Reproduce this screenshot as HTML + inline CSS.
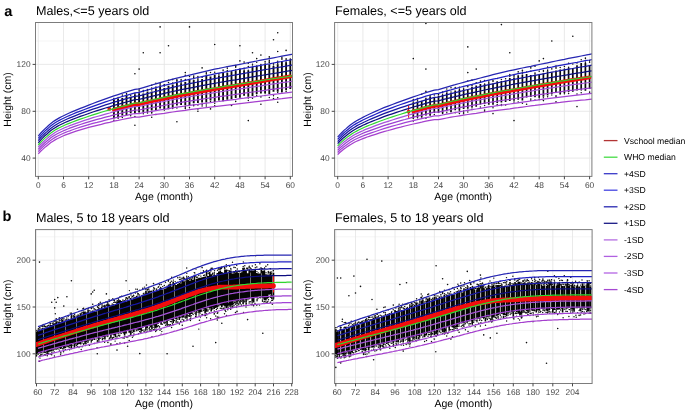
<!DOCTYPE html>
<html lang="en"><head><meta charset="utf-8"><title>Height-for-age growth charts</title>
<style>html,body{margin:0;padding:0;background:#fff}svg{display:block;will-change:transform}</style></head>
<body>
<svg width="685" height="413" viewBox="0 0 685 413" font-family='"Liberation Sans", Arial, Helvetica, sans-serif' text-rendering="geometricPrecision">
<rect width="685" height="413" fill="#fff"/>
<text x="4.2" y="15.9" font-size="14.6" font-weight="700" fill="#000">a</text>
<text x="35.9" y="14.5" font-size="12.6" fill="#000">Males,&lt;=5 years old</text>
<rect x="35.5" y="22.5" width="257" height="153.9" fill="#fff"/>
<path d="M35.5 134.7H292.5M35.5 87.8H292.5M35.5 41H292.5" stroke="#ececec" stroke-width=".55" fill="none"/>
<path d="M35.5 158.1H292.5M35.5 111.3H292.5M35.5 64.4H292.5M38.3 22.5V176.4M63.5 22.5V176.4M88.7 22.5V176.4M113.9 22.5V176.4M139.1 22.5V176.4M164.3 22.5V176.4M189.5 22.5V176.4M214.7 22.5V176.4M239.9 22.5V176.4M265.1 22.5V176.4M290.3 22.5V176.4" stroke="#e4e4e4" stroke-width=".8" fill="none"/>
<clipPath id="ca"><rect x="35.5" y="22.5" width="257" height="153.9"/></clipPath>
<g clip-path="url(#ca)">
<path d="M113.9 118.1V99.5M118.1 117.6V98.5M122.3 115.5V98.1M126.5 115.3V95.4M130.7 113.3V96.8M134.9 113.5V94.3M139.1 112.6V93.4M143.3 111.7V93.4M147.5 111.7V91.5M151.7 110.5V91.4M155.9 110.6V88.6M160.1 108.6V86.6M164.3 109.3V88.1M168.5 109.2V85.7M172.7 107.8V84.6M176.9 105.6V82.6M181.1 104.9V83.3M185.3 105.3V81.9M189.5 104.9V80.1M193.7 103.3V80.3M197.9 102.9V80.2M202.1 102.6V79M206.3 102.5V75.8M210.5 100.6V76.6M214.7 102.1V74.8M218.9 100.4V75.8M223.1 101.2V72.5M227.3 99.8V72.4M231.5 99.3V71.7M235.7 98.1V70.5M239.9 97.8V69.1M244.1 95.7V70.8M248.3 96.8V70.4M252.5 96V66.9M256.7 93.9V66.1M260.9 93.5V66M265.1 92.9V64.6M269.3 93.9V64.3M273.5 91.8V66M277.7 91.8V64.3M281.9 92.1V61M286.1 90.2V62.3M290.3 89V59.6" stroke="#0a0a0a" stroke-width="1.85" fill="none"/>
<path d="M113.9 98.8h.01M113.9 98.6h.01M113.9 120.3h.01M113.9 118.1h.01M118.1 97.6h.01M118.1 118.3h.01M122.3 96.5h.01M122.3 95.1h.01M122.3 117.6h.01M126.5 94.9h.01M126.5 93.6h.01M130.7 95.3h.01M130.7 115.7h.01M134.9 93.5h.01M134.9 113.6h.01M139.1 92.2h.01M139.1 93.3h.01M139.1 90.7h.01M143.3 91.7h.01M143.3 90.6h.01M143.3 91.3h.01M143.3 113.8h.01M143.3 111.9h.01M147.5 90.3h.01M147.5 89.5h.01M147.5 111.9h.01M147.5 112.9h.01M151.7 90.1h.01M151.7 88.1h.01M151.7 112.3h.01M151.7 112.3h.01M155.9 87.1h.01M155.9 87.8h.01M155.9 87.2h.01M160.1 84.2h.01M160.1 85.5h.01M160.1 83.5h.01M164.3 84.8h.01M164.3 84.9h.01M164.3 86.1h.01M164.3 109.7h.01M164.3 109.9h.01M168.5 82.5h.01M172.7 83.1h.01M172.7 108.6h.01M176.9 80.5h.01M176.9 81.4h.01M176.9 108.1h.01M181.1 82.8h.01M181.1 79.6h.01M181.1 80.8h.01M185.3 80.5h.01M185.3 79.6h.01M185.3 107.6h.01M185.3 106.5h.01M189.5 79.5h.01M189.5 76.4h.01M189.5 80.1h.01M189.5 107.5h.01M189.5 107.7h.01M193.7 80.3h.01M193.7 77.9h.01M193.7 77.2h.01M193.7 105.1h.01M193.7 105.8h.01M197.9 79.5h.01M197.9 78.8h.01M197.9 76.4h.01M197.9 104.9h.01M202.1 77.2h.01M202.1 106.1h.01M202.1 104.4h.01M206.3 73.4h.01M206.3 74h.01M206.3 72.2h.01M206.3 104h.01M206.3 105.9h.01M210.5 72.6h.01M210.5 101.6h.01M214.7 72.2h.01M214.7 105.7h.01M214.7 103.3h.01M218.9 74.9h.01M223.1 69.9h.01M223.1 70.5h.01M227.3 68.3h.01M227.3 70.4h.01M231.5 71.5h.01M235.7 67.2h.01M235.7 70h.01M235.7 66.4h.01M235.7 101.2h.01M235.7 101.5h.01M239.9 68.9h.01M244.1 70h.01M244.1 68.3h.01M244.1 70.7h.01M248.3 70.3h.01M248.3 98h.01M248.3 100.5h.01M252.5 64.2h.01M252.5 66.1h.01M252.5 98.3h.01M256.7 62.2h.01M256.7 65.9h.01M256.7 95.2h.01M256.7 95.2h.01M260.9 64.6h.01M260.9 97h.01M260.9 96.7h.01M265.1 63.7h.01M265.1 61.9h.01M265.1 61.6h.01M265.1 95.4h.01M265.1 93.3h.01M269.3 60.6h.01M269.3 62.8h.01M269.3 60.9h.01M269.3 97.5h.01M269.3 97.6h.01M273.5 65h.01M273.5 63.4h.01M273.5 95.7h.01M277.7 61.2h.01M277.7 63.8h.01M277.7 62.5h.01M277.7 92.4h.01M281.9 59.2h.01M281.9 58.4h.01M281.9 93.1h.01M286.1 61.9h.01M286.1 58.7h.01M286.1 59.5h.01M286.1 91.5h.01M290.3 59h.01M290.3 59h.01M290.3 59.3h.01" stroke="#111" stroke-width="1.5" stroke-linecap="round" fill="none"/>
<path d="M134.9 73.8h.01M139.1 69.1h.01M143.3 52.7h.01M160.1 26.9h.01M160.1 52.7h.01M168.5 45.7h.01M189.5 26.9h.01M185.3 72.6h.01M214.7 44.5h.01M239.9 45.7h.01M239.9 60.9h.01M248.3 63.2h.01M252.5 52.7h.01M256.7 58.6h.01M260.9 55.1h.01M273.5 39.8h.01M277.7 32.8h.01M277.7 51.5h.01M286.1 50.4h.01M202.1 67.9h.01M227.3 66.8h.01M235.7 65.6h.01M176.9 121.8h.01M248.3 120.6h.01M134.9 125.3h.01M197.9 111.3h.01M210.5 108.9h.01M231.5 105.4h.01M260.9 104.2h.01M155.9 83.2h.01M172.7 79.6h.01M193.7 76.1h.01M218.9 73.8h.01M244.1 62.1h.01M269.3 58.6h.01M269.3 62.1h.01M248.3 66.5h.01M277.7 97.8h.01M269.3 56.9h.01M151.7 85.3h.01M197.9 109h.01M134.9 116.5h.01M176.9 79.9h.01M185.3 106.5h.01M168.5 80.2h.01M164.3 109.5h.01M273.5 98.5h.01M151.7 117.2h.01M231.5 105h.01M281.9 57.3h.01M155.9 114.5h.01M151.7 112.9h.01M147.5 90h.01M185.3 108.6h.01M139.1 89.1h.01M185.3 75.3h.01M164.3 85.1h.01M277.7 102.2h.01" stroke="#111" stroke-width="1.6" stroke-linecap="round" fill="none"/>
<path d="M113.9 109.7L118.1 108.6L122.3 107.5L126.5 106.4L130.7 105.4L134.9 104.3L139.1 104.1L143.3 103.1L147.5 102.1L151.7 101.2L155.9 100.3L160.1 99.4L164.3 98.5L168.5 97.6L172.7 96.8L176.9 95.9L181.1 95.1L185.3 94.3L189.5 93.6L193.7 92.8L197.9 92L202.1 91.3L206.3 90.5L210.5 89.8L214.7 89.1L218.9 88.3L223.1 87.7L227.3 87L231.5 86.3L235.7 85.6L239.9 85L244.1 84.2L248.3 83.5L252.5 82.8L256.7 82.1L260.9 81.4L265.1 80.6L269.3 79.9L273.5 79.2L277.7 78.5L281.9 77.8L286.1 77.1L290.3 76.4" stroke="#f20d0d" stroke-width="3.9" stroke-linecap="round" stroke-linejoin="round" fill="none"/>
<circle cx="109.3" cy="108.9" r="1.9" fill="#f20d0d"/>
<path d="M38.3 153.8L40.4 151.5L42.5 149.6L44.6 147.6L46.7 145.9L48.8 144.2L50.9 142.6L53 141.2L55.1 139.9L57.2 138.7L59.3 137.7L61.4 136.7L63.5 135.8L65.6 134.9L67.7 134.1L69.8 133.3L71.9 132.6L76.1 131.2L80.3 129.8L84.5 128.6L88.7 127.4L92.9 126.3L97.1 125.3L101.3 124.3L105.5 123.2L109.7 122.3L113.9 121.2L118.1 120.4L122.3 119.5L126.5 118.6L130.7 117.8L134.9 117L139.1 117L143.3 116.3L147.5 115.6L151.7 115L155.9 114.4L160.1 113.8L164.3 113.3L168.5 112.6L172.7 112L176.9 111.4L181.1 110.8L185.3 110.3L189.5 109.7L193.7 109.2L197.9 108.7L202.1 108.2L206.3 107.7L210.5 107.2L214.7 106.7L218.9 106.2L223.1 105.7L227.3 105.2L231.5 104.7L235.7 104.2L239.9 103.6L244.1 103.1L248.3 102.6L252.5 102.1L256.7 101.6L260.9 101.1L265.1 100.6L269.3 100.1L273.5 99.6L277.7 99.1L281.9 98.7L286.1 98.2L290.3 97.7L294.5 97.2" stroke="#a540ce" stroke-width="1.25" fill="none"/>
<path d="M38.3 151.6L40.4 149.3L42.5 147.3L44.6 145.3L46.7 143.6L48.8 141.8L50.9 140.2L53 138.8L55.1 137.4L57.2 136.2L59.3 135.2L61.4 134.2L63.5 133.3L65.6 132.4L67.7 131.5L69.8 130.8L71.9 130L76.1 128.5L80.3 127.2L84.5 125.9L88.7 124.7L92.9 123.4L97.1 122.4L101.3 121.3L105.5 120.2L109.7 119.2L113.9 118.1L118.1 117.2L122.3 116.2L126.5 115.3L130.7 114.4L134.9 113.5L139.1 113.5L143.3 112.7L147.5 112L151.7 111.3L155.9 110.6L160.1 109.9L164.3 109.3L168.5 108.6L172.7 107.9L176.9 107.2L181.1 106.6L185.3 106L189.5 105.4L193.7 104.8L197.9 104.3L202.1 103.7L206.3 103.1L210.5 102.6L214.7 102L218.9 101.5L223.1 100.9L227.3 100.4L231.5 99.8L235.7 99.3L239.9 98.7L244.1 98.2L248.3 97.6L252.5 97.1L256.7 96.5L260.9 96L265.1 95.5L269.3 94.9L273.5 94.4L277.7 93.9L281.9 93.3L286.1 92.8L290.3 92.3L294.5 91.8" stroke="#a244d6" stroke-width="1.25" fill="none"/>
<path d="M38.3 149.4L40.4 147L42.5 145L44.6 143L46.7 141.2L48.8 139.5L50.9 137.8L53 136.3L55.1 135L57.2 133.8L59.3 132.7L61.4 131.7L63.5 130.8L65.6 129.9L67.7 129L69.8 128.2L71.9 127.4L76.1 125.9L80.3 124.5L84.5 123.2L88.7 121.9L92.9 120.6L97.1 119.4L101.3 118.3L105.5 117.1L109.7 116.1L113.9 114.9L118.1 114L122.3 112.9L126.5 112L130.7 111L134.9 110.1L139.1 110L143.3 109.1L147.5 108.3L151.7 107.5L155.9 106.8L160.1 106L164.3 105.3L168.5 104.5L172.7 103.8L176.9 103.1L181.1 102.4L185.3 101.7L189.5 101.1L193.7 100.4L197.9 99.8L202.1 99.2L206.3 98.5L210.5 97.9L214.7 97.3L218.9 96.7L223.1 96.1L227.3 95.6L231.5 95L235.7 94.4L239.9 93.8L244.1 93.2L248.3 92.6L252.5 92L256.7 91.5L260.9 90.9L265.1 90.3L269.3 89.7L273.5 89.2L277.7 88.6L281.9 88L286.1 87.5L290.3 86.9L294.5 86.3" stroke="#9c40d2" stroke-width="1.25" fill="none"/>
<path d="M38.3 147.2L40.4 144.8L42.5 142.7L44.6 140.7L46.7 138.9L48.8 137.1L50.9 135.4L53 133.9L55.1 132.5L57.2 131.3L59.3 130.2L61.4 129.2L63.5 128.3L65.6 127.3L67.7 126.5L69.8 125.6L71.9 124.9L76.1 123.3L80.3 121.8L84.5 120.4L88.7 119.1L92.9 117.7L97.1 116.5L101.3 115.3L105.5 114.1L109.7 113L113.9 111.7L118.1 110.7L122.3 109.6L126.5 108.6L130.7 107.6L134.9 106.6L139.1 106.5L143.3 105.5L147.5 104.6L151.7 103.8L155.9 102.9L160.1 102.1L164.3 101.3L168.5 100.5L172.7 99.7L176.9 98.9L181.1 98.2L185.3 97.4L189.5 96.7L193.7 96L197.9 95.3L202.1 94.7L206.3 94L210.5 93.3L214.7 92.6L218.9 92L223.1 91.4L227.3 90.7L231.5 90.1L235.7 89.5L239.9 88.9L244.1 88.3L248.3 87.6L252.5 87L256.7 86.4L260.9 85.8L265.1 85.1L269.3 84.5L273.5 83.9L277.7 83.3L281.9 82.7L286.1 82.1L290.3 81.5L294.5 80.9" stroke="#a653da" stroke-width="1.25" fill="none"/>
<path d="M38.3 142.8L40.4 140.3L42.5 138.1L44.6 136L46.7 134.2L48.8 132.3L50.9 130.6L53 129.1L55.1 127.7L57.2 126.4L59.3 125.3L61.4 124.3L63.5 123.3L65.6 122.3L67.7 121.4L69.8 120.5L71.9 119.7L76.1 118L80.3 116.4L84.5 115L88.7 113.5L92.9 112L97.1 110.7L101.3 109.3L105.5 108L109.7 106.8L113.9 105.4L118.1 104.3L122.3 103.1L126.5 102L130.7 100.8L134.9 99.7L139.1 99.4L143.3 98.4L147.5 97.3L151.7 96.3L155.9 95.3L160.1 94.3L164.3 93.3L168.5 92.4L172.7 91.5L176.9 90.6L181.1 89.7L185.3 88.9L189.5 88.1L193.7 87.3L197.9 86.4L202.1 85.6L206.3 84.8L210.5 84L214.7 83.3L218.9 82.5L223.1 81.8L227.3 81.1L231.5 80.4L235.7 79.8L239.9 79.1L244.1 78.4L248.3 77.6L252.5 76.9L256.7 76.2L260.9 75.5L265.1 74.8L269.3 74.2L273.5 73.5L277.7 72.8L281.9 72.1L286.1 71.4L290.3 70.7L294.5 70.1" stroke="#0d0d80" stroke-width="1.25" fill="none"/>
<path d="M38.3 140.6L40.4 138L42.5 135.9L44.6 133.7L46.7 131.9L48.8 130L50.9 128.2L53 126.7L55.1 125.2L57.2 124L59.3 122.8L61.4 121.8L63.5 120.8L65.6 119.8L67.7 118.8L69.8 117.9L71.9 117.1L76.1 115.4L80.3 113.7L84.5 112.2L88.7 110.7L92.9 109.2L97.1 107.8L101.3 106.3L105.5 104.9L109.7 103.6L113.9 102.2L118.1 101.1L122.3 99.8L126.5 98.6L130.7 97.4L134.9 96.3L139.1 95.9L143.3 94.8L147.5 93.6L151.7 92.5L155.9 91.4L160.1 90.4L164.3 89.4L168.5 88.4L172.7 87.4L176.9 86.4L181.1 85.5L185.3 84.6L189.5 83.7L193.7 82.9L197.9 82L202.1 81.1L206.3 80.2L210.5 79.4L214.7 78.6L218.9 77.8L223.1 77.1L227.3 76.3L231.5 75.6L235.7 74.9L239.9 74.1L244.1 73.4L248.3 72.7L252.5 71.9L256.7 71.2L260.9 70.4L265.1 69.7L269.3 69L273.5 68.2L277.7 67.5L281.9 66.8L286.1 66.1L290.3 65.4L294.5 64.6" stroke="#1616a2" stroke-width="1.25" fill="none"/>
<path d="M38.3 138.3L40.4 135.8L42.5 133.6L44.6 131.4L46.7 129.5L48.8 127.6L50.9 125.8L53 124.2L55.1 122.8L57.2 121.5L59.3 120.4L61.4 119.3L63.5 118.3L65.6 117.2L67.7 116.3L69.8 115.4L71.9 114.5L76.1 112.7L80.3 111.1L84.5 109.5L88.7 107.9L92.9 106.3L97.1 104.8L101.3 103.4L105.5 101.9L109.7 100.5L113.9 99.1L118.1 97.9L122.3 96.5L126.5 95.3L130.7 94.1L134.9 92.8L139.1 92.4L143.3 91.2L147.5 90L151.7 88.8L155.9 87.6L160.1 86.5L164.3 85.4L168.5 84.3L172.7 83.3L176.9 82.3L181.1 81.3L185.3 80.3L189.5 79.4L193.7 78.5L197.9 77.5L202.1 76.6L206.3 75.7L210.5 74.8L214.7 73.9L218.9 73.1L223.1 72.3L227.3 71.5L231.5 70.8L235.7 70L239.9 69.2L244.1 68.4L248.3 67.7L252.5 66.9L256.7 66.1L260.9 65.3L265.1 64.5L269.3 63.8L273.5 63L277.7 62.2L281.9 61.5L286.1 60.7L290.3 60L294.5 59.2" stroke="#2020c4" stroke-width="1.25" fill="none"/>
<path d="M38.3 136.1L40.4 133.5L42.5 131.3L44.6 129.1L46.7 127.2L48.8 125.2L50.9 123.4L53 121.8L55.1 120.4L57.2 119.1L59.3 117.9L61.4 116.8L63.5 115.8L65.6 114.7L67.7 113.7L69.8 112.8L71.9 111.9L76.1 110.1L80.3 108.4L84.5 106.8L88.7 105.1L92.9 103.5L97.1 101.9L101.3 100.4L105.5 98.8L109.7 97.4L113.9 95.9L118.1 94.6L122.3 93.2L126.5 91.9L130.7 90.7L134.9 89.4L139.1 88.9L143.3 87.6L147.5 86.3L151.7 85L155.9 83.8L160.1 82.6L164.3 81.4L168.5 80.3L172.7 79.2L176.9 78.1L181.1 77.1L185.3 76.1L189.5 75.1L193.7 74.1L197.9 73.1L202.1 72.1L206.3 71.1L210.5 70.1L214.7 69.2L218.9 68.4L223.1 67.5L227.3 66.7L231.5 65.9L235.7 65.1L239.9 64.3L244.1 63.5L248.3 62.7L252.5 61.8L256.7 61L260.9 60.2L265.1 59.4L269.3 58.6L273.5 57.8L277.7 57L281.9 56.2L286.1 55.4L290.3 54.6L294.5 53.8" stroke="#2626b2" stroke-width="1.25" fill="none"/>
<path d="M38.3 145L40.4 142.5L42.5 140.4L44.6 138.4L46.7 136.6L48.8 134.7L50.9 133L53 131.5L55.1 130.1L57.2 128.9L59.3 127.8L61.4 126.7L63.5 125.8L65.6 124.8L67.7 123.9L69.8 123.1L71.9 122.3L76.1 120.6L80.3 119.1L84.5 117.7L88.7 116.3L92.9 114.9L97.1 113.6L101.3 112.3L105.5 111L109.7 109.9L113.9 108.6L118.1 107.5L122.3 106.3L126.5 105.3L130.7 104.2L134.9 103.2L139.1 102.9L143.3 101.9L147.5 101L151.7 100L155.9 99.1L160.1 98.2L164.3 97.3L168.5 96.4L172.7 95.6L176.9 94.7L181.1 93.9L185.3 93.2L189.5 92.4L193.7 91.6L197.9 90.9L202.1 90.1L206.3 89.4L210.5 88.7L214.7 88L218.9 87.3L223.1 86.6L227.3 85.9L231.5 85.3L235.7 84.6L239.9 84L244.1 83.3L248.3 82.6L252.5 82L256.7 81.3L260.9 80.7L265.1 80L269.3 79.3L273.5 78.7L277.7 78.1L281.9 77.4L286.1 76.8L290.3 76.1L294.5 75.5" stroke="#2fd62f" stroke-width="1.2" fill="none"/>
</g>
<rect x="35.5" y="22.5" width="257" height="153.9" fill="none" stroke="#7c7c7c" stroke-width="1"/>
<path d="M38.3 176.4v2.9M63.5 176.4v2.9M88.7 176.4v2.9M113.9 176.4v2.9M139.1 176.4v2.9M164.3 176.4v2.9M189.5 176.4v2.9M214.7 176.4v2.9M239.9 176.4v2.9M265.1 176.4v2.9M290.3 176.4v2.9M35.5 158.1h-2.9M35.5 111.3h-2.9M35.5 64.4h-2.9" stroke="#333" stroke-width=".9" fill="none"/>
<g font-size="8.4" fill="#474747">
<g text-anchor="middle">
<text x="38.3" y="187.7">0</text>
<text x="63.5" y="187.7">6</text>
<text x="88.7" y="187.7">12</text>
<text x="113.9" y="187.7">18</text>
<text x="139.1" y="187.7">24</text>
<text x="164.3" y="187.7">30</text>
<text x="189.5" y="187.7">36</text>
<text x="214.7" y="187.7">42</text>
<text x="239.9" y="187.7">48</text>
<text x="265.1" y="187.7">54</text>
<text x="290.3" y="187.7">60</text>
</g><g text-anchor="end">
<text x="30.6" y="161.1">40</text>
<text x="30.6" y="114.3">80</text>
<text x="30.6" y="67.4">120</text>
</g></g>
<text x="164" y="199.9" font-size="10.5" text-anchor="middle" fill="#000">Age (month)</text>
<text transform="translate(11.4 99.5) rotate(-90)" font-size="10.5" text-anchor="middle" fill="#000">Height (cm)</text>
<text x="335" y="14.5" font-size="12.6" fill="#000">Females, &lt;=5 years old</text>
<rect x="334.6" y="22.5" width="257.3" height="153.9" fill="#fff"/>
<path d="M334.6 134.7H591.9M334.6 87.8H591.9M334.6 41H591.9" stroke="#ececec" stroke-width=".55" fill="none"/>
<path d="M334.6 158.1H591.9M334.6 111.3H591.9M334.6 64.4H591.9M337.7 22.5V176.4M362.9 22.5V176.4M388.1 22.5V176.4M413.3 22.5V176.4M438.5 22.5V176.4M463.6 22.5V176.4M488.8 22.5V176.4M514 22.5V176.4M539.2 22.5V176.4M564.4 22.5V176.4M589.6 22.5V176.4" stroke="#e4e4e4" stroke-width=".8" fill="none"/>
<clipPath id="cb"><rect x="334.6" y="22.5" width="257.3" height="153.9"/></clipPath>
<g clip-path="url(#cb)">
<path d="M413.3 118.2V102.4M417.5 117.2V101.4M421.7 117.4V101.5M425.9 115.4V98.4M430.1 115.7V96.6M434.3 113.1V98M438.5 113.1V95.7M442.6 113.2V94.9M446.8 111.2V92.4M451 112.2V94.2M455.2 110.3V90.4M459.4 110.4V90M463.6 109V90.1M467.8 108.8V89.2M472 107.1V86.8M476.2 106.7V85.6M480.4 104.6V83.9M484.6 104V84.3M488.8 104.8V83.3M493 104.8V83.6M497.2 103V81.2M501.4 102.6V81.1M505.6 101.9V80.4M509.8 101.1V78.1M514 100.8V77.4M518.2 99.8V75.3M522.4 100.6V74.8M526.6 97.4V74.1M530.8 97.1V75M535 97.3V74.4M539.2 97.6V74.9M543.4 96.7V73.3M547.6 95.4V71.3M551.8 94.1V72.3M556 93.1V70.5M560.2 94.5V69.5M564.4 93.1V69.6M568.6 91.5V68.2M572.8 91.8V67.9M577 90.4V65.2M581.2 89.8V63M585.4 90.7V62.9M589.6 89.1V65.4" stroke="#0a0a0a" stroke-width="1.7" fill="none"/>
<path d="M413.3 99.6h.01M413.3 102h.01M413.3 102.1h.01M413.3 120.9h.01M413.3 118.5h.01M417.5 99.1h.01M417.5 100.8h.01M417.5 98.6h.01M417.5 117.8h.01M421.7 101.4h.01M421.7 118.3h.01M425.9 98.2h.01M425.9 118.2h.01M430.1 95.3h.01M430.1 95.9h.01M434.3 97.6h.01M434.3 97.4h.01M434.3 95.1h.01M434.3 114.6h.01M438.5 94h.01M438.5 94.8h.01M438.5 94h.01M442.6 92.2h.01M442.6 92h.01M442.6 94.3h.01M442.6 113.6h.01M446.8 91.6h.01M446.8 89h.01M446.8 91.7h.01M446.8 112.7h.01M446.8 112.7h.01M451 92.1h.01M451 94h.01M451 93.4h.01M455.2 87.5h.01M455.2 112.7h.01M455.2 112.5h.01M459.4 88.9h.01M459.4 89.4h.01M459.4 87.2h.01M459.4 110.9h.01M459.4 113.4h.01M463.6 89.5h.01M463.6 88.2h.01M463.6 89.7h.01M463.6 112.2h.01M463.6 110.9h.01M467.8 86.6h.01M467.8 86.8h.01M467.8 111.9h.01M467.8 110.2h.01M472 85.6h.01M472 109.4h.01M472 107.8h.01M476.2 82.8h.01M480.4 82.3h.01M480.4 81.1h.01M480.4 81.9h.01M480.4 107.1h.01M484.6 80.6h.01M484.6 84.1h.01M484.6 105.6h.01M488.8 80.9h.01M488.8 82.4h.01M488.8 82.5h.01M493 80.6h.01M493 80.8h.01M493 81.4h.01M493 107.7h.01M497.2 78.4h.01M497.2 105.4h.01M497.2 104.5h.01M501.4 79.5h.01M501.4 104.4h.01M501.4 105.4h.01M505.6 78.8h.01M505.6 105h.01M505.6 104.8h.01M509.8 76.4h.01M509.8 74.4h.01M509.8 75.6h.01M514 74.9h.01M514 75.6h.01M514 76.6h.01M514 101.9h.01M514 101.9h.01M518.2 73.3h.01M518.2 73.6h.01M518.2 102h.01M522.4 73.7h.01M522.4 71h.01M522.4 72.7h.01M522.4 103.3h.01M526.6 71.9h.01M530.8 71.3h.01M530.8 99h.01M530.8 100.2h.01M535 73.5h.01M535 73h.01M535 100.1h.01M539.2 71.2h.01M539.2 99.4h.01M539.2 97.8h.01M543.4 71.6h.01M543.4 70.4h.01M543.4 97.7h.01M547.6 70.4h.01M547.6 66.9h.01M547.6 70h.01M547.6 96.7h.01M551.8 68.7h.01M551.8 69h.01M551.8 94.9h.01M556 68.2h.01M556 66.1h.01M556 67.4h.01M556 95.7h.01M556 96.4h.01M560.2 67.5h.01M564.4 66.5h.01M564.4 68.9h.01M564.4 93.7h.01M568.6 68.1h.01M568.6 67.3h.01M568.6 67.4h.01M568.6 93.5h.01M568.6 91.5h.01M572.8 64.1h.01M577 63.1h.01M577 94h.01M581.2 59.7h.01M581.2 90h.01M581.2 92.7h.01M585.4 58.1h.01M585.4 58.5h.01M585.4 62.3h.01M589.6 60.8h.01M589.6 60.4h.01M589.6 62.3h.01M589.6 92.1h.01M589.6 92.2h.01" stroke="#111" stroke-width="1.5" stroke-linecap="round" fill="none"/>
<path d="M413.3 58.6h.01M425.9 23.4h.01M425.9 69.1h.01M467.8 46.9h.01M467.8 72.6h.01M476.2 69.1h.01M501.4 24.6h.01M509.8 52.7h.01M539.2 60.9h.01M543.4 58.6h.01M551.8 41h.01M572.8 36.3h.01M568.6 63.2h.01M514 120.6h.01M493 113.6h.01M484.6 111.3h.01M577 106.6h.01M556 101.9h.01M526.6 104.2h.01M425.9 91.4h.01M451 87.8h.01M522.4 70.3h.01M530.8 67.9h.01M484.6 110h.01M518.2 71.7h.01M463.6 113.8h.01M421.7 94.3h.01M585.4 60.6h.01M547.6 67.5h.01M467.8 81h.01M472 80.1h.01M543.4 100.6h.01M535 66.3h.01" stroke="#111" stroke-width="1.6" stroke-linecap="round" fill="none"/>
<path d="M413.3 111.4L417.5 110.3L421.7 109.1L425.9 107.9L430.1 106.9L434.3 105.8L438.5 105.6L442.6 104.6L446.8 103.6L451 102.6L455.2 101.6L459.4 100.7L463.6 99.8L467.8 98.9L472 98L476.2 97.2L480.4 96.3L484.6 95.5L488.8 94.6L493 93.8L497.2 93L501.4 92.3L505.6 91.5L509.8 90.8L514 90.1L518.2 89.3L522.4 88.6L526.6 87.8L530.8 87.1L535 86.4L539.2 85.7L543.4 85L547.6 84.2L551.8 83.5L556 82.8L560.2 82.1L564.4 81.4L568.6 80.7L572.8 80L577 79.4L581.2 78.7L585.4 78.1L589.6 77.4" stroke="#f20d0d" stroke-width="3.9" stroke-linecap="round" stroke-linejoin="round" fill="none"/>
<circle cx="408.6" cy="111.7" r="1.9" fill="#f20d0d"/>
<path d="M408.6 105.5V117.7" stroke="#f20d0d" stroke-width="1.1"/>
<path d="M337.7 154.6L339.8 152.5L341.9 150.7L344 149L346.1 147.6L348.2 146.1L350.3 144.8L352.4 143.5L354.5 142.3L356.6 141.3L358.7 140.4L360.8 139.5L362.9 138.6L365 137.8L367.1 137L369.2 136.4L371.3 135.7L375.5 134.3L379.7 132.9L383.9 131.6L388.1 130.5L392.3 129.3L396.5 128.1L400.7 127.1L404.9 126L409.1 125L413.3 124L417.5 123.1L421.7 122.2L425.9 121.2L430.1 120.4L434.3 119.6L438.5 119.6L442.6 118.8L446.8 118L451 117.2L455.2 116.5L459.4 115.8L463.6 115.1L467.8 114.5L472 113.9L476.2 113.3L480.4 112.6L484.6 112L488.8 111.4L493 110.8L497.2 110.3L501.4 109.8L505.6 109.3L509.8 108.8L514 108.2L518.2 107.7L522.4 107.1L526.6 106.5L530.8 105.9L535 105.4L539.2 104.8L543.4 104.3L547.6 103.8L551.8 103.3L556 102.8L560.2 102.4L564.4 101.9L568.6 101.4L572.8 101L577 100.6L581.2 100.2L585.4 99.8L589.6 99.3L593.8 98.8" stroke="#a540ce" stroke-width="1.25" fill="none"/>
<path d="M337.7 152.5L339.8 150.3L341.9 148.4L344 146.7L346.1 145.2L348.2 143.7L350.3 142.3L352.4 141L354.5 139.8L356.6 138.8L358.7 137.8L360.8 136.9L362.9 136L365 135.1L367.1 134.3L369.2 133.6L371.3 132.9L375.5 131.5L379.7 130L383.9 128.7L388.1 127.4L392.3 126.2L396.5 125L400.7 123.8L404.9 122.7L409.1 121.6L413.3 120.6L417.5 119.6L421.7 118.6L425.9 117.6L430.1 116.8L434.3 115.9L438.5 115.8L442.6 115L446.8 114.1L451 113.3L455.2 112.5L459.4 111.8L463.6 111L467.8 110.3L472 109.7L476.2 109L480.4 108.3L484.6 107.6L488.8 106.9L493 106.3L497.2 105.7L501.4 105.1L505.6 104.6L509.8 104L514 103.4L518.2 102.8L522.4 102.2L526.6 101.6L530.8 101L535 100.4L539.2 99.8L543.4 99.2L547.6 98.7L551.8 98.1L556 97.6L560.2 97.1L564.4 96.6L568.6 96.1L572.8 95.6L577 95.1L581.2 94.7L585.4 94.2L589.6 93.7L593.8 93.2" stroke="#a244d6" stroke-width="1.25" fill="none"/>
<path d="M337.7 150.3L339.8 148L341.9 146.2L344 144.4L346.1 142.8L348.2 141.3L350.3 139.8L352.4 138.5L354.5 137.3L356.6 136.2L358.7 135.2L360.8 134.2L362.9 133.3L365 132.4L367.1 131.6L369.2 130.8L371.3 130.1L375.5 128.6L379.7 127.1L383.9 125.7L388.1 124.4L392.3 123.1L396.5 121.8L400.7 120.6L404.9 119.5L409.1 118.3L413.3 117.2L417.5 116.2L421.7 115.1L425.9 114.1L430.1 113.1L434.3 112.2L438.5 112.1L442.6 111.2L446.8 110.3L451 109.4L455.2 108.5L459.4 107.7L463.6 106.9L467.8 106.2L472 105.4L476.2 104.7L480.4 104L484.6 103.2L488.8 102.5L493 101.8L497.2 101.1L501.4 100.5L505.6 99.9L509.8 99.3L514 98.6L518.2 98L522.4 97.3L526.6 96.7L530.8 96L535 95.4L539.2 94.7L543.4 94.1L547.6 93.5L551.8 92.9L556 92.4L560.2 91.8L564.4 91.2L568.6 90.7L572.8 90.2L577 89.6L581.2 89.1L585.4 88.6L589.6 88.1L593.8 87.5" stroke="#9c40d2" stroke-width="1.25" fill="none"/>
<path d="M337.7 148.1L339.8 145.8L341.9 143.9L344 142L346.1 140.5L348.2 138.8L350.3 137.4L352.4 136L354.5 134.8L356.6 133.6L358.7 132.6L360.8 131.6L362.9 130.7L365 129.7L367.1 128.9L369.2 128.1L371.3 127.3L375.5 125.7L379.7 124.1L383.9 122.7L388.1 121.3L392.3 120L396.5 118.6L400.7 117.4L404.9 116.2L409.1 114.9L413.3 113.8L417.5 112.7L421.7 111.6L425.9 110.5L430.1 109.5L434.3 108.5L438.5 108.3L442.6 107.3L446.8 106.4L451 105.5L455.2 104.6L459.4 103.7L463.6 102.8L467.8 102L472 101.2L476.2 100.4L480.4 99.6L484.6 98.8L488.8 98L493 97.3L497.2 96.6L501.4 95.9L505.6 95.2L509.8 94.5L514 93.8L518.2 93.1L522.4 92.4L526.6 91.7L530.8 91.1L535 90.4L539.2 89.7L543.4 89.1L547.6 88.4L551.8 87.8L556 87.1L560.2 86.5L564.4 85.9L568.6 85.3L572.8 84.7L577 84.2L581.2 83.6L585.4 83L589.6 82.5L593.8 81.9" stroke="#a653da" stroke-width="1.25" fill="none"/>
<path d="M337.7 143.7L339.8 141.3L341.9 139.3L344 137.4L346.1 135.7L348.2 134L350.3 132.5L352.4 131L354.5 129.7L356.6 128.5L358.7 127.4L360.8 126.4L362.9 125.3L365 124.4L367.1 123.4L369.2 122.5L371.3 121.7L375.5 120L379.7 118.3L383.9 116.7L388.1 115.2L392.3 113.8L396.5 112.3L400.7 111L404.9 109.6L409.1 108.3L413.3 107L417.5 105.8L421.7 104.6L425.9 103.4L430.1 102.2L434.3 101.1L438.5 100.8L442.6 99.7L446.8 98.7L451 97.6L455.2 96.6L459.4 95.6L463.6 94.6L467.8 93.7L472 92.8L476.2 91.9L480.4 91L484.6 90L488.8 89.1L493 88.3L497.2 87.4L501.4 86.6L505.6 85.8L509.8 85L514 84.2L518.2 83.4L522.4 82.7L526.6 81.9L530.8 81.1L535 80.4L539.2 79.6L543.4 78.9L547.6 78.2L551.8 77.4L556 76.7L560.2 76L564.4 75.3L568.6 74.6L572.8 73.9L577 73.2L581.2 72.6L585.4 71.9L589.6 71.2L593.8 70.5" stroke="#0d0d80" stroke-width="1.25" fill="none"/>
<path d="M337.7 141.6L339.8 139.1L341.9 137L344 135L346.1 133.3L348.2 131.6L350.3 130L352.4 128.5L354.5 127.2L356.6 125.9L358.7 124.8L360.8 123.7L362.9 122.7L365 121.7L367.1 120.7L369.2 119.8L371.3 118.9L375.5 117.1L379.7 115.4L383.9 113.7L388.1 112.2L392.3 110.7L396.5 109.2L400.7 107.7L404.9 106.3L409.1 104.9L413.3 103.6L417.5 102.4L421.7 101.1L425.9 99.8L430.1 98.6L434.3 97.4L438.5 97.1L442.6 95.9L446.8 94.8L451 93.7L455.2 92.6L459.4 91.6L463.6 90.5L467.8 89.5L472 88.6L476.2 87.6L480.4 86.6L484.6 85.6L488.8 84.7L493 83.8L497.2 82.9L501.4 82L505.6 81.1L509.8 80.2L514 79.4L518.2 78.6L522.4 77.8L526.6 77L530.8 76.2L535 75.4L539.2 74.6L543.4 73.8L547.6 73L551.8 72.2L556 71.5L560.2 70.7L564.4 69.9L568.6 69.2L572.8 68.5L577 67.7L581.2 67L585.4 66.3L589.6 65.6L593.8 64.9" stroke="#1616a2" stroke-width="1.25" fill="none"/>
<path d="M337.7 139.4L339.8 136.9L341.9 134.7L344 132.7L346.1 130.9L348.2 129.2L350.3 127.5L352.4 126L354.5 124.6L356.6 123.4L358.7 122.2L360.8 121.1L362.9 120L365 119L367.1 118L369.2 117L371.3 116.1L375.5 114.2L379.7 112.4L383.9 110.7L388.1 109.2L392.3 107.6L396.5 106L400.7 104.5L404.9 103.1L409.1 101.6L413.3 100.3L417.5 98.9L421.7 97.6L425.9 96.2L430.1 95L434.3 93.8L438.5 93.3L442.6 92.1L446.8 90.9L451 89.8L455.2 88.6L459.4 87.5L463.6 86.4L467.8 85.4L472 84.4L476.2 83.3L480.4 82.3L484.6 81.2L488.8 80.2L493 79.2L497.2 78.3L501.4 77.3L505.6 76.4L509.8 75.5L514 74.6L518.2 73.7L522.4 72.9L526.6 72.1L530.8 71.2L535 70.4L539.2 69.6L543.4 68.7L547.6 67.9L551.8 67.1L556 66.2L560.2 65.4L564.4 64.6L568.6 63.8L572.8 63L577 62.3L581.2 61.5L585.4 60.7L589.6 60L593.8 59.2" stroke="#2020c4" stroke-width="1.25" fill="none"/>
<path d="M337.7 137.2L339.8 134.6L341.9 132.5L344 130.4L346.1 128.6L348.2 126.7L350.3 125.1L352.4 123.5L354.5 122.1L356.6 120.8L358.7 119.6L360.8 118.5L362.9 117.4L365 116.3L367.1 115.2L369.2 114.2L371.3 113.3L375.5 111.4L379.7 109.5L383.9 107.7L388.1 106.1L392.3 104.5L396.5 102.8L400.7 101.3L404.9 99.8L409.1 98.3L413.3 96.9L417.5 95.5L421.7 94L425.9 92.6L430.1 91.4L434.3 90.1L438.5 89.6L442.6 88.3L446.8 87.1L451 85.8L455.2 84.7L459.4 83.5L463.6 82.3L467.8 81.2L472 80.1L476.2 79.1L480.4 78L484.6 76.9L488.8 75.8L493 74.7L497.2 73.7L501.4 72.7L505.6 71.7L509.8 70.7L514 69.8L518.2 68.9L522.4 68L526.6 67.1L530.8 66.3L535 65.4L539.2 64.5L543.4 63.7L547.6 62.8L551.8 61.9L556 61L560.2 60.1L564.4 59.3L568.6 58.4L572.8 57.6L577 56.8L581.2 56L585.4 55.2L589.6 54.3L593.8 53.5" stroke="#2626b2" stroke-width="1.25" fill="none"/>
<path d="M337.7 145.9L339.8 143.6L341.9 141.6L344 139.7L346.1 138.1L348.2 136.4L350.3 134.9L352.4 133.5L354.5 132.2L356.6 131.1L358.7 130L360.8 129L362.9 128L365 127L367.1 126.1L369.2 125.3L371.3 124.5L375.5 122.9L379.7 121.2L383.9 119.7L388.1 118.3L392.3 116.9L396.5 115.5L400.7 114.2L404.9 112.9L409.1 111.6L413.3 110.4L417.5 109.3L421.7 108.1L425.9 106.9L430.1 105.9L434.3 104.8L438.5 104.6L442.6 103.5L446.8 102.5L451 101.5L455.2 100.6L459.4 99.6L463.6 98.7L467.8 97.9L472 97L476.2 96.2L480.4 95.3L484.6 94.4L488.8 93.6L493 92.8L497.2 92L501.4 91.2L505.6 90.5L509.8 89.8L514 89L518.2 88.3L522.4 87.5L526.6 86.8L530.8 86.1L535 85.4L539.2 84.7L543.4 84L547.6 83.3L551.8 82.6L556 81.9L560.2 81.2L564.4 80.6L568.6 79.9L572.8 79.3L577 78.7L581.2 78.1L585.4 77.5L589.6 76.8L593.8 76.2" stroke="#2fd62f" stroke-width="1.2" fill="none"/>
</g>
<rect x="334.6" y="22.5" width="257.3" height="153.9" fill="none" stroke="#7c7c7c" stroke-width="1"/>
<path d="M337.7 176.4v2.9M362.9 176.4v2.9M388.1 176.4v2.9M413.3 176.4v2.9M438.5 176.4v2.9M463.6 176.4v2.9M488.8 176.4v2.9M514 176.4v2.9M539.2 176.4v2.9M564.4 176.4v2.9M589.6 176.4v2.9M334.6 158.1h-2.9M334.6 111.3h-2.9M334.6 64.4h-2.9" stroke="#333" stroke-width=".9" fill="none"/>
<g font-size="8.4" fill="#474747">
<g text-anchor="middle">
<text x="337.7" y="187.7">0</text>
<text x="362.9" y="187.7">6</text>
<text x="388.1" y="187.7">12</text>
<text x="413.3" y="187.7">18</text>
<text x="438.5" y="187.7">24</text>
<text x="463.6" y="187.7">30</text>
<text x="488.8" y="187.7">36</text>
<text x="514" y="187.7">42</text>
<text x="539.2" y="187.7">48</text>
<text x="564.4" y="187.7">54</text>
<text x="589.6" y="187.7">60</text>
</g><g text-anchor="end">
<text x="329.7" y="161.1">40</text>
<text x="329.7" y="114.3">80</text>
<text x="329.7" y="67.4">120</text>
</g></g>
<text x="463.2" y="199.9" font-size="10.5" text-anchor="middle" fill="#000">Age (month)</text>
<text transform="translate(310.5 99.5) rotate(-90)" font-size="10.5" text-anchor="middle" fill="#000">Height (cm)</text>
<text x="2.4" y="220.8" font-size="14.6" font-weight="700" fill="#000">b</text>
<text x="35.9" y="221.6" font-size="12.6" fill="#000">Males, 5 to 18 years old</text>
<rect x="35.5" y="229.6" width="257" height="153.9" fill="#fff"/>
<path d="M35.5 377.2H292.5M35.5 330.4H292.5M35.5 283.6H292.5M35.5 236.8H292.5" stroke="#ececec" stroke-width=".55" fill="none"/>
<path d="M35.5 353.8H292.5M35.5 307H292.5M35.5 260.2H292.5M36.5 229.6V383.5M54.7 229.6V383.5M73 229.6V383.5M91.2 229.6V383.5M109.4 229.6V383.5M127.6 229.6V383.5M145.9 229.6V383.5M164.1 229.6V383.5M182.3 229.6V383.5M200.6 229.6V383.5M218.8 229.6V383.5M237 229.6V383.5M255.2 229.6V383.5M273.5 229.6V383.5M291.7 229.6V383.5" stroke="#e4e4e4" stroke-width=".8" fill="none"/>
<clipPath id="cc"><rect x="35.5" y="229.6" width="257" height="153.9"/></clipPath>
<g clip-path="url(#cc)">
<path d="M36.5 354.2V331.6M38 353.6V330.2M39.5 353.4V329.2M41.1 353.2V330M42.6 352.5V329.4M44.1 352.9V328M45.6 351.4V327.4M47.1 354.1V327.5M48.7 351.9V326.9M50.2 351.4V324.5M51.7 351.3V325.1M53.2 349.4V323.2M54.7 349.8V323.2M56.2 348.4V322M57.8 348V323.9M59.3 348.2V321.6M60.8 349V322.2M62.3 346.8V319.5M63.8 348.7V321.4M65.4 348V320.7M66.9 345.7V320.8M68.4 345.2V318.7M69.9 346V319.8M71.4 347.9V316.1M73 343.9V318.7M74.5 346.9V315.4M76 344.6V317.8M77.5 345.1V315.6M79 343.9V315.8M80.6 344.4V314M82.1 342.1V315.5M83.6 341.4V311.9M85.1 344.2V311.4M86.6 342.4V313.1M88.1 340.8V310.1M89.7 340.5V313M91.2 339.6V311.4M92.7 338.8V310.6M94.2 339.9V310.8M95.7 338.1V311.4M97.3 338.4V310.7M98.8 340.4V308.6M100.3 336.9V309M101.8 337.3V306.4M103.3 337V308.2M104.9 339.5V304.7M106.4 335.5V306.7M107.9 335.8V303.6M109.4 334.9V304.6M110.9 338.6V305.6M112.4 334.6V304.6M114 335.6V305.2M115.5 337.3V304.6M117 333.2V301.6M118.5 332.8V300.7M120 333.6V300M121.6 332.1V300.9M123.1 331.7V302M124.6 335.4V301.8M126.1 333.4V301.7M127.6 330.8V300M129.2 332.8V300.2M130.7 334.4V298.1M132.2 330.5V299.4M133.7 332.2V297.4M135.2 329.4V296.8M136.8 329.6V295.7M138.3 330.5V297.1M139.8 330V296.7M141.3 331.2V296.2M142.8 327.7V295.1M144.3 326.8V294.2M145.9 329.9V290.7M147.4 328V292.6M148.9 325.8V291.1M150.4 327.3V292.4M151.9 329.4V292.9M153.5 325.6V289.5M155 328.2V291.9M156.5 327.7V290.1M158 324.1V290.9M159.5 322.7V289.3M161.1 324.7V289.5M162.6 321.9V289.4M164.1 321.4V288.7M165.6 321V288.6M167.1 325.2V287.1M168.7 320.7V284.4M170.2 319.8V283.5M171.7 320.2V286.4M173.2 323.1V281.5M174.7 318.7V283.1M176.2 319.3V285M177.8 317.6V284M179.3 320V282.9M180.8 316.5V283.5M182.3 317.8V279.7M183.8 317.4V281.3M185.4 315.1V281.6M186.9 318.5V277.3M188.4 314V280M189.9 316.9V280.7M191.4 314V279.1M193 312.3V279.8M194.5 312V274.8M196 315.4V279.1M197.5 311.3V278.6M199 313.6V277.8M200.6 312.1V277.8M202.1 309.3V277.2M203.6 309.6V277M205.1 313.4V276.4M206.6 311.7V271.6M208.1 307.8V275.9M209.7 308.2V271.8M211.2 311.4V274.3M212.7 307.7V275.5M214.2 308.9V274.3M215.7 307.9V275M217.3 307.2V272.9M218.8 304.6V271.4M220.3 305.5V270.5M221.8 306.9V272.1M223.3 305.4V272.7M224.9 306.6V269.4M226.4 308V269.6M227.9 305.9V273.1M229.4 304.9V270.3M230.9 306.7V270.6M232.5 305.1V273.4M234 301.4V273.2M235.5 301.4V272.4M237 304.2V270.8M238.5 301.6V273.1M240 302.9V273.1M241.6 300.6V272.3M243.1 303.9V267.9M244.6 299.2V269.4M246.1 302.7V270.3M247.6 298.7V273.2M249.2 299.3V269.4M250.7 298.2V270.4M252.2 301.8V271.1M253.7 302.5V270.5M255.2 297.7V269M256.8 298V273M258.3 296.7V273.7M259.8 296.2V273.4M261.3 295.9V269.7M262.8 298.4V270.8M264.4 300.3V270.3M265.9 300.2V274.3M267.4 298.7V274.4M268.9 294.8V274.5M270.4 294.6V271.6M271.9 299.3V274.8M273.5 295.5V272.8" stroke="#050505" stroke-width="1.6" fill="none"/>
<path d="M43.5 352.5V328.7M54.5 349.4V324.9M65.5 346.5V321.1M76.5 343.6V317.4M86.5 340.8V313.7M97.5 338V310.2M108.5 335.5V306.7M119.5 333.1V303.2M130.5 330.7V299.7M141.5 328.1V296.1M152.5 325.3V292.4M163.5 322.3V288.7M174.5 319V285.3M185.5 315.5V281.7M195.5 312V278.5M206.5 308.6V275.9M217.5 305.6V274.1M228.5 303.1V272.9M239.5 301.1V272.5M250.5 298.6V272.6M261.5 296.6V273.3M272.5 295V274.2" stroke="#e6e6e6" stroke-opacity="0.48" stroke-width="1" fill="none"/>
<path d="M36.2 330.4h.01M36.4 356h.01M36.6 355.8h.01M36.5 355h.01M38.2 329.2h.01M38.4 328.7h.01M38.1 354.2h.01M40.1 328h.01M39.5 327.8h.01M39.9 355.8h.01M40 358.1h.01M41.4 329.1h.01M40.8 354.7h.01M40.9 354.5h.01M41.4 354.8h.01M42.5 328.5h.01M42.3 326.5h.01M42.6 325.3h.01M42.8 354.1h.01M44.4 326h.01M44 326.7h.01M44.8 354.7h.01M45.6 326.5h.01M45.6 354.9h.01M45.4 352.4h.01M47.1 326.7h.01M47.3 326h.01M47.3 355.7h.01M48.6 325.4h.01M48.5 325.5h.01M48.9 353.1h.01M48.3 353.3h.01M50.4 323.5h.01M50.1 323.4h.01M50.5 354.1h.01M52.2 323.3h.01M51.9 352.3h.01M53.3 321.9h.01M53.1 350.4h.01M53.3 350h.01M53.1 350.2h.01M54.8 321.3h.01M55.3 313.7h.01M54.2 352h.01M54.4 355.9h.01M55.8 320.6h.01M56.2 321.2h.01M56.2 349.2h.01M58.3 322.4h.01M58.2 323h.01M57.6 321.9h.01M57.7 348.7h.01M59.3 317.6h.01M59.2 319.8h.01M59.3 320.6h.01M59.4 351h.01M59 349.1h.01M61.3 319.5h.01M60.8 320.6h.01M61.3 320.9h.01M60.6 354.7h.01M61.9 317.6h.01M62.2 318.5h.01M62.5 348.8h.01M61.7 347.6h.01M63.9 318.2h.01M63.8 319.9h.01M63.6 350.3h.01M63.5 350.5h.01M63.6 351.7h.01M65.3 320.1h.01M65.4 320.1h.01M65.4 349.5h.01M65.5 349.6h.01M66.8 318h.01M66.5 319.7h.01M66.9 346.6h.01M68.2 316.6h.01M68.2 346.8h.01M68.2 345.9h.01M68.7 346.8h.01M70.2 313.1h.01M69.8 347h.01M69.6 349.7h.01M69.8 347.3h.01M71.4 313.3h.01M71.3 314.7h.01M71.6 315.6h.01M71.2 348.7h.01M73.4 318.2h.01M73.3 315.8h.01M73.2 316.8h.01M72.9 345.2h.01M74.6 314.3h.01M74.3 347.7h.01M74.4 347.5h.01M76.2 316.1h.01M76.3 345.4h.01M78 314.9h.01M77.5 346.4h.01M77.7 346.4h.01M79 315.2h.01M79 347.6h.01M80.2 313.4h.01M80.2 346.5h.01M81.2 349.4h.01M82.1 314.6h.01M81.7 313.8h.01M82.1 346.7h.01M82.1 343h.01M83.7 311.1h.01M82.9 308.7h.01M83.8 343.4h.01M83.6 344.2h.01M85.2 309.5h.01M85.5 345.5h.01M87 312.5h.01M86.2 343.6h.01M88.3 308.3h.01M88 309.6h.01M88.1 341.5h.01M88 342.4h.01M90 311.1h.01M89.9 311.1h.01M89.8 310.8h.01M89.4 345.2h.01M89.6 345h.01M91.4 308.4h.01M91.4 341.1h.01M91.3 340.2h.01M91.2 341.9h.01M93 307.8h.01M92.4 340.1h.01M92.4 339.8h.01M92.2 340.3h.01M94.2 309.3h.01M94.2 308.7h.01M94.4 343.5h.01M95.8 309.4h.01M96 339.1h.01M97.4 306.7h.01M97.9 307.4h.01M97.8 309.8h.01M97.1 347.8h.01M97.4 340.4h.01M98.7 305.4h.01M98.9 305.7h.01M98.6 308h.01M98.9 341.2h.01M100 308.4h.01M100 304.5h.01M99.9 338.3h.01M100.2 338.3h.01M101.9 305.1h.01M102 303.9h.01M102.1 338.1h.01M102.3 339.8h.01M103.1 306h.01M102.9 306.2h.01M104.1 306.2h.01M103 338.8h.01M103.2 338.5h.01M103.1 338.1h.01M104.5 302.6h.01M104.6 342.2h.01M106.9 304.4h.01M106 302h.01M106.7 305.4h.01M106.1 336.1h.01M107.6 302.3h.01M107.8 302.9h.01M107.8 336.4h.01M109.5 301.2h.01M109.1 299.8h.01M109.6 337.9h.01M109.2 339h.01M111.7 300.1h.01M110.9 344.5h.01M110.9 343.7h.01M111.2 339.6h.01M112.2 303.9h.01M112.8 298.6h.01M112.6 337.8h.01M112.5 338.2h.01M114.4 300.4h.01M113.7 304.6h.01M113.8 302.4h.01M113.8 337.3h.01M114.9 302h.01M115.8 302.6h.01M115.1 341.1h.01M116 338.4h.01M117.7 300.7h.01M117 301h.01M116.8 298.6h.01M117 336.7h.01M118.3 298.6h.01M118.5 299.6h.01M118.8 299.9h.01M118.3 335.5h.01M118.2 333.8h.01M120.1 296.6h.01M119.9 335.1h.01M119.5 335.9h.01M121.6 296.3h.01M121.3 333.3h.01M123 301.3h.01M122.9 301.1h.01M122.9 299.9h.01M123.4 332.9h.01M123.5 332.7h.01M123 332.6h.01M124.4 300.7h.01M124.3 300.9h.01M124.9 336.4h.01M124.6 343h.01M124.4 338.1h.01M126.6 297.7h.01M125.7 299.2h.01M125.7 301h.01M126.5 336.9h.01M127.5 299.1h.01M127.5 298.4h.01M127.8 337.1h.01M129.4 290.6h.01M129.1 298h.01M129 297.2h.01M129.1 335.8h.01M131 295h.01M130.8 293.3h.01M130.5 335.4h.01M130.4 335.3h.01M132.8 296.5h.01M131.8 297.1h.01M132.3 296.4h.01M132.4 332.2h.01M131.9 331.9h.01M132.4 337.2h.01M133.5 295.3h.01M133.7 295.4h.01M133.9 333.9h.01M134.1 334.2h.01M133.5 335.7h.01M135.4 292.9h.01M135.7 289.1h.01M134.8 331h.01M137.1 292h.01M137.3 289.2h.01M136.7 330.3h.01M136.8 330.8h.01M137.8 293.7h.01M138 295.1h.01M138.5 333.7h.01M139.6 295h.01M139.8 290.1h.01M139.6 331.5h.01M140.3 331.9h.01M141.9 295.5h.01M141.2 332h.01M143.2 293.9h.01M142.5 330.3h.01M144.5 287.1h.01M144 293.3h.01M144.1 331.4h.01M144 329.9h.01M145.9 289.3h.01M146.5 284.9h.01M145.7 288.9h.01M145.8 330.6h.01M146.4 332.3h.01M145.5 332.5h.01M147.1 291h.01M147.6 329.1h.01M147.6 331.1h.01M148.7 287.9h.01M148.8 289.8h.01M149.4 330.1h.01M149.7 327.6h.01M149.2 328.5h.01M150.6 291.5h.01M149.7 291.3h.01M150.6 331.2h.01M150.2 329.6h.01M151.6 291.2h.01M151.3 330.5h.01M152 336.6h.01M153.9 288.2h.01M153.8 287.4h.01M153.4 329.6h.01M153.1 327.2h.01M154.8 289h.01M154.7 329.2h.01M154.6 329.1h.01M155.7 331.4h.01M156.7 289h.01M156.7 289.4h.01M156.6 330.2h.01M156.3 329.1h.01M156 330.3h.01M158.1 287.3h.01M157.6 326.5h.01M157.7 326.3h.01M158.5 325.6h.01M160 288.4h.01M158.7 286.8h.01M160 330.2h.01M160.6 287.4h.01M161.2 284.4h.01M161.4 288.4h.01M161.8 331.6h.01M161.1 334.1h.01M162.7 286.6h.01M162.3 324.3h.01M164.3 285.5h.01M163.8 322.7h.01M164.1 322.5h.01M164.9 323.2h.01M165.3 287.4h.01M165.5 282.2h.01M165.8 322.3h.01M165.6 325.2h.01M166.1 321.7h.01M167.1 286.1h.01M167.9 325.9h.01M167.5 326.1h.01M167.3 326h.01M168.4 281.3h.01M168.5 280.5h.01M168.7 324.6h.01M170.4 282.6h.01M170.1 282.6h.01M170.3 324.8h.01M170.4 321.5h.01M169.6 325.6h.01M171.3 281.2h.01M172.1 284.4h.01M171.6 321.8h.01M171.6 327.5h.01M173.4 280.1h.01M172.4 323.8h.01M172.9 324.7h.01M173.7 324.4h.01M175.2 281.6h.01M174.5 320.5h.01M176.3 282.9h.01M176.1 321.5h.01M176.3 320.2h.01M176.1 322.7h.01M177.8 282.3h.01M177.4 319h.01M179.5 279.5h.01M179.9 277.2h.01M179.2 323.2h.01M179.4 324h.01M180.8 282.7h.01M180.7 281.5h.01M180.7 317.6h.01M181.9 278.2h.01M182.7 278.1h.01M182.2 319.3h.01M184.2 278.2h.01M183.6 277.2h.01M183.5 279.1h.01M183.6 319.9h.01M183.6 321.1h.01M184 320.1h.01M185.2 280.9h.01M185.1 279.1h.01M185.4 317.9h.01M185.1 317.3h.01M185.7 315.9h.01M186.7 276.2h.01M186.8 273.2h.01M186.7 267.9h.01M187.1 319.2h.01M188.5 276.6h.01M188 279.1h.01M188.4 278.5h.01M187.8 315.5h.01M188.3 315.9h.01M188.3 315.4h.01M190 278.9h.01M189.8 277.9h.01M189.7 279.6h.01M190.3 318.6h.01M190.4 320.5h.01M189.8 319.3h.01M191.3 278h.01M191.3 315.7h.01M190.8 318h.01M192.6 277.9h.01M192.7 276.8h.01M193.1 314.4h.01M192.7 313.3h.01M194.2 272.6h.01M194.8 273h.01M194.8 313.1h.01M196 269.1h.01M195.9 276.6h.01M195.6 316.4h.01M196.1 316.2h.01M196.8 277.4h.01M197.3 277.2h.01M197 312.3h.01M198.8 275.5h.01M198.8 329.1h.01M199 314.9h.01M199.4 320.3h.01M200.9 273h.01M200.9 276.1h.01M200.5 273.4h.01M200.1 313h.01M200.4 317.1h.01M202.6 273h.01M201.7 310.2h.01M202.5 314.7h.01M201.8 311.3h.01M203.4 270.7h.01M203.6 275.5h.01M203.8 271.4h.01M203.7 310.5h.01M204.8 274.9h.01M204.8 315.5h.01M205.4 315.4h.01M206.3 270.4h.01M206.7 270.1h.01M206.9 314.8h.01M206.3 313.4h.01M206.6 317.7h.01M208.2 273.4h.01M208 310.3h.01M207.9 309.9h.01M207.9 310.9h.01M210.3 269.8h.01M209.4 312.9h.01M209.3 309h.01M210.9 270.9h.01M210.6 318.7h.01M212.3 268.3h.01M212.6 273.3h.01M212.3 274.3h.01M212.8 309h.01M212.7 308.6h.01M213 308.7h.01M214.3 272.8h.01M214.2 273.2h.01M214.5 270.7h.01M214.4 313.6h.01M214.3 310.9h.01M215.7 268.6h.01M215.7 316h.01M216.4 309.5h.01M215.4 311.8h.01M217.5 270.2h.01M217.4 308.3h.01M217.8 312.8h.01M218.8 269.3h.01M218.1 305.7h.01M218.9 305.8h.01M220.6 268.8h.01M220.1 269.2h.01M220.2 268.3h.01M220.3 308.3h.01M221.7 267.6h.01M221.5 268.5h.01M221.8 308.1h.01M221.8 308.5h.01M223.3 266.6h.01M223.4 308.3h.01M224.9 268.3h.01M224.6 267.5h.01M224.6 268.5h.01M224.8 307.9h.01M225.1 310.5h.01M224.5 313.8h.01M226.3 266.7h.01M226.3 264.6h.01M226.5 315.4h.01M225.8 311.5h.01M227.9 270.4h.01M228.1 307.6h.01M227.8 306.7h.01M227.8 309.8h.01M229.7 266.2h.01M229.1 305.7h.01M229.9 306h.01M230.8 268.5h.01M230.9 269.3h.01M230.6 307.9h.01M230.7 309.3h.01M232.5 262.3h.01M233 272.1h.01M232.1 307.2h.01M232.7 305.9h.01M233 307.2h.01M234 272h.01M234.8 272.4h.01M233.3 303.7h.01M234 302.8h.01M235.4 267.6h.01M235.7 270.8h.01M235.3 304.3h.01M235.3 302.8h.01M235 302.1h.01M236.7 265.3h.01M237.3 269h.01M236.5 306.9h.01M238.9 271.5h.01M238.5 271.4h.01M238.7 304.7h.01M238.8 303.2h.01M239.8 271.7h.01M240.3 303.7h.01M241.6 270.7h.01M241.3 301.3h.01M243.3 262h.01M243.2 266.5h.01M243.5 312.4h.01M243.6 305.3h.01M244.8 265.7h.01M244.4 268.7h.01M244.4 268.1h.01M244.6 301.7h.01M244.6 301.8h.01M244.4 300.1h.01M246.6 268.3h.01M246 306.9h.01M246.4 303.8h.01M245.8 305.3h.01M247.5 269.9h.01M247.9 299.7h.01M249.1 267.7h.01M249.1 266.9h.01M249.3 266.2h.01M249.1 302.9h.01M249.3 301.6h.01M250.4 267.9h.01M251 268.4h.01M251 304.2h.01M250.7 301.7h.01M252.3 266h.01M252 270.3h.01M251.7 304.7h.01M252.2 302.8h.01M252.5 304.5h.01M254 269.4h.01M253.6 305.8h.01M253.6 305.2h.01M255.7 255.8h.01M255.3 267.7h.01M255.4 264.8h.01M255 303.4h.01M256.9 271.6h.01M256.9 299.1h.01M257.2 299.9h.01M257 300.7h.01M258.2 273h.01M258 298.6h.01M259.4 269.3h.01M259.9 263.7h.01M259.6 297.4h.01M259.5 305.1h.01M259.8 297.5h.01M261.4 268.8h.01M261.5 268.2h.01M260.8 267.9h.01M260.8 297.8h.01M261.1 296.8h.01M261.1 296.7h.01M262.6 268.8h.01M262.5 301.3h.01M262.4 299.9h.01M264.6 267.9h.01M264 302.1h.01M264.3 301.5h.01M266 272.7h.01M265.9 301.1h.01M265.9 302h.01M268.1 273h.01M267.7 264.7h.01M267.1 302.7h.01M267.8 301.4h.01M268.3 271.4h.01M268.9 272.8h.01M268.7 296.2h.01M268.5 299.8h.01M268.7 297.3h.01M270.3 268.7h.01M270.2 268.6h.01M270.9 295.6h.01M270.6 297.3h.01M271.8 272h.01M272 274.1h.01M271.6 273.6h.01M271.7 300.6h.01M272.5 300.2h.01M272.3 304.3h.01M273.2 270.6h.01M273.4 270.7h.01M273.6 296.2h.01M273.8 297.8h.01M273.4 296.7h.01" stroke="#111" stroke-width="1.45" stroke-linecap="round" fill="none"/>
<path d="M39.5 262.1h.01M71.4 280.8h.01M91.2 293.9h.01M92.7 292h.01M94.2 290.2h.01M51.7 302.3h.01M54.7 299.5h.01M56.2 302.3h.01M57.8 297.6h.01M54.7 307.9h.01M63.8 306.1h.01M66.9 296.7h.01M126.1 280.8h.01M97.3 353.8h.01M167.1 353.8h.01M193 346.3h.01M215.7 342.6h.01M262.8 333.2h.01M142.8 288.3h.01M153.5 283.6h.01M127.6 346.3h.01M117 350.1h.01M202.1 314.5h.01M217.3 320h.01M161.1 329h.01M256.8 267h.01M234 305.8h.01M71.4 313.6h.01M107.9 342.4h.01M117 343.9h.01M39.5 361.2h.01M237 305.3h.01M159.5 284.8h.01M100.3 302.3h.01M211.2 268.4h.01M41.1 326h.01M180.8 321.4h.01M265.9 266.3h.01M273.5 298.9h.01M270.4 302.2h.01M247.6 268.4h.01M208.1 271.7h.01M130.7 335.3h.01M241.6 305.1h.01M237 311.4h.01M120 343.1h.01M147.4 289.6h.01M129.2 296.9h.01M247.6 319.6h.01M218.8 268.1h.01M214.2 314h.01M177.8 277.7h.01M182.3 325.2h.01M264.4 268.5h.01M123.1 337.9h.01M243.1 268.3h.01M221.8 323.2h.01M92.7 304.3h.01M114 300.2h.01M126.1 297.9h.01M56.2 318.7h.01M98.8 303.7h.01M106.4 293.9h.01M77.5 309.2h.01M235.5 312.5h.01M170.2 324.7h.01M218.8 317.2h.01M234 267.4h.01M129.2 340.5h.01M202.1 267.6h.01M60.8 352.9h.01M171.7 277.3h.01M256.8 305.1h.01M246.1 303.7h.01M177.8 322.1h.01M217.3 317.1h.01M217.3 313.3h.01M44.1 326h.01M82.1 312.4h.01M221.8 267.2h.01M182.3 329.2h.01M130.7 333.9h.01M139.8 353.6h.01M51.7 354.7h.01M91.2 307.8h.01M180.8 279.2h.01M159.5 326.9h.01M138.3 293.9h.01M117 338.3h.01M186.9 320.5h.01M83.6 308.4h.01M97.3 341.9h.01" stroke="#111" stroke-width="1.6" stroke-linecap="round" fill="none"/>
<path d="M36.5 344.5L38 344L39.5 343.5L41.1 342.9L42.6 342.4L44.1 341.9L45.6 341.4L47.1 340.9L48.7 340.3L50.2 339.8L51.7 339.3L53.2 338.8L54.7 338.3L56.2 337.8L57.8 337.3L59.3 336.8L60.8 336.3L62.3 335.8L63.8 335.2L65.4 334.7L66.9 334.2L68.4 333.7L69.9 333.2L71.4 332.7L73 332.2L74.5 331.7L76 331.3L77.5 330.8L79 330.3L80.6 329.8L82.1 329.3L83.6 328.9L85.1 328.4L86.6 327.9L88.1 327.5L89.7 327L91.2 326.5L92.7 326.1L94.2 325.6L95.7 325.1L97.3 324.7L98.8 324.2L100.3 323.8L101.8 323.3L103.3 322.9L104.9 322.4L106.4 322L107.9 321.5L109.4 321.1L110.9 320.6L112.4 320.2L114 319.8L115.5 319.4L117 319L118.5 318.5L120 318.1L121.6 317.7L123.1 317.3L124.6 316.8L126.1 316.4L127.6 316L129.2 315.6L130.7 315.1L132.2 314.7L133.7 314.3L135.2 313.8L136.8 313.4L138.3 312.9L139.8 312.5L141.3 312L142.8 311.6L144.3 311.1L145.9 310.7L147.4 310.2L148.9 309.7L150.4 309.3L151.9 308.7L153.5 308.2L155 307.7L156.5 307.1L158 306.6L159.5 306L161.1 305.5L162.6 304.9L164.1 304.4L165.6 303.8L167.1 303.2L168.7 302.6L170.2 302L171.7 301.4L173.2 300.8L174.7 300.2L176.2 299.6L177.8 298.9L179.3 298.3L180.8 297.8L182.3 297.2L183.8 296.7L185.4 296.1L186.9 295.6L188.4 295L189.9 294.5L191.4 293.9L193 293.4L194.5 292.9L196 292.4L197.5 291.8L199 291.3L200.6 290.8L202.1 290.5L203.6 290.2L205.1 289.8L206.6 289.5L208.1 289.2L209.7 288.9L211.2 288.7L212.7 288.4L214.2 288.1L215.7 287.9L217.3 287.7L218.8 287.4L220.3 287.2L221.8 287.2L223.3 287.2L224.9 287.2L226.4 287.2L227.9 287.2L229.4 287.2L230.9 287.1L232.5 287.1L234 287L235.5 287L237 287L238.5 286.8L240 286.7L241.6 286.6L243.1 286.6L244.6 286.5L246.1 286.4L247.6 286.4L249.2 286.3L250.7 286.3L252.2 286.3L253.7 286.3L255.2 286.2L256.8 286.2L258.3 286.1L259.8 286.1L261.3 286L262.8 286L264.4 286L265.9 286L267.4 286L268.9 285.9L270.4 285.9L271.9 285.9L273.5 285.9" stroke="#f20d0d" stroke-width="4.8" stroke-linecap="round" stroke-linejoin="round" fill="none"/>
<path d="M273.5 275.2V292.5" stroke="#f20d0d" stroke-width="1.1"/>
<path d="M38 361.3L38.8 361.1L39.5 361L40.3 360.8L41.1 360.6L41.8 360.4L42.6 360.2L43.3 360L44.1 359.9L44.9 359.7L45.6 359.5L46.4 359.3L47.1 359.1L47.9 359L48.7 358.8L49.4 358.6L50.2 358.4L51.7 358.1L53.2 357.7L54.7 357.4L56.2 357L57.8 356.7L59.3 356.3L60.8 356L62.3 355.6L63.8 355.3L65.4 354.9L66.9 354.6L68.4 354.3L69.9 353.9L71.4 353.6L73 353.3L74.5 352.9L76 352.6L77.5 352.3L79 351.9L80.6 351.6L82.1 351.3L83.6 351L85.1 350.6L86.6 350.3L88.1 350L89.7 349.7L91.2 349.4L92.7 349.1L94.2 348.8L95.7 348.5L97.3 348.1L98.8 347.8L100.3 347.5L101.8 347.2L103.3 347L104.9 346.7L106.4 346.4L107.9 346.1L109.4 345.8L110.9 345.5L112.4 345.2L114 344.9L115.5 344.6L117 344.3L118.5 344.1L120 343.8L121.6 343.5L123.1 343.2L124.6 342.9L126.1 342.6L127.6 342.3L129.2 342L130.7 341.7L132.2 341.4L133.7 341.1L135.2 340.8L136.8 340.5L138.3 340.2L139.8 339.9L141.3 339.6L142.8 339.3L144.3 338.9L145.9 338.6L147.4 338.3L148.9 337.9L150.4 337.6L151.9 337.2L153.5 336.9L155 336.5L156.5 336.1L158 335.8L159.5 335.4L161.1 335L162.6 334.6L164.1 334.2L165.6 333.8L167.1 333.4L168.7 333L170.2 332.5L171.7 332.1L173.2 331.7L174.7 331.2L176.2 330.8L177.8 330.3L179.3 329.9L180.8 329.4L182.3 328.9L183.8 328.5L185.4 328L186.9 327.5L188.4 327L189.9 326.5L191.4 326.1L193 325.6L194.5 325.1L196 324.6L197.5 324.2L199 323.7L200.6 323.2L202.1 322.7L203.6 322.3L205.1 321.8L206.6 321.4L208.1 321L209.7 320.5L211.2 320.1L212.7 319.7L214.2 319.3L215.7 318.8L217.3 318.4L218.8 318.1L220.3 317.7L221.8 317.3L223.3 316.9L224.9 316.6L226.4 316.2L227.9 315.9L229.4 315.6L230.9 315.3L232.5 315L234 314.7L235.5 314.4L237 314.1L238.5 313.8L240 313.6L241.6 313.3L243.1 313.1L244.6 312.8L246.1 312.6L247.6 312.4L249.2 312.2L250.7 312L252.2 311.8L253.7 311.6L255.2 311.4L256.8 311.2L258.3 311.1L259.8 310.9L261.3 310.8L262.8 310.7L264.4 310.5L265.9 310.4L267.4 310.3L268.9 310.2L270.4 310.1L271.9 310L273.5 309.9L275 309.8L276.5 309.7L278 309.7L279.5 309.6L281.1 309.6L282.6 309.5L284.1 309.5L285.6 309.5L287.1 309.5L288.7 309.4L290.2 309.4L291.7 309.4" stroke="#a540ce" stroke-width="1.25" fill="none"/>
<path d="M38 357L38.8 356.8L39.5 356.6L40.3 356.4L41.1 356.2L41.8 356L42.6 355.8L43.3 355.6L44.1 355.4L44.9 355.2L45.6 355L46.4 354.8L47.1 354.6L47.9 354.5L48.7 354.3L49.4 354.1L50.2 353.9L51.7 353.5L53.2 353.1L54.7 352.7L56.2 352.4L57.8 352L59.3 351.6L60.8 351.2L62.3 350.9L63.8 350.5L65.4 350.1L66.9 349.8L68.4 349.4L69.9 349L71.4 348.7L73 348.3L74.5 347.9L76 347.6L77.5 347.2L79 346.9L80.6 346.5L82.1 346.2L83.6 345.8L85.1 345.5L86.6 345.1L88.1 344.8L89.7 344.4L91.2 344.1L92.7 343.8L94.2 343.4L95.7 343.1L97.3 342.8L98.8 342.4L100.3 342.1L101.8 341.8L103.3 341.4L104.9 341.1L106.4 340.8L107.9 340.5L109.4 340.2L110.9 339.8L112.4 339.5L114 339.2L115.5 338.9L117 338.6L118.5 338.3L120 338L121.6 337.6L123.1 337.3L124.6 337L126.1 336.7L127.6 336.4L129.2 336L130.7 335.7L132.2 335.4L133.7 335.1L135.2 334.7L136.8 334.4L138.3 334.1L139.8 333.7L141.3 333.4L142.8 333L144.3 332.7L145.9 332.3L147.4 331.9L148.9 331.6L150.4 331.2L151.9 330.8L153.5 330.5L155 330.1L156.5 329.7L158 329.3L159.5 328.9L161.1 328.5L162.6 328L164.1 327.6L165.6 327.2L167.1 326.7L168.7 326.3L170.2 325.8L171.7 325.4L173.2 324.9L174.7 324.4L176.2 324L177.8 323.5L179.3 323L180.8 322.5L182.3 322L183.8 321.5L185.4 321L186.9 320.5L188.4 320L189.9 319.5L191.4 319L193 318.5L194.5 318L196 317.5L197.5 317.1L199 316.6L200.6 316.1L202.1 315.6L203.6 315.2L205.1 314.7L206.6 314.2L208.1 313.8L209.7 313.3L211.2 312.9L212.7 312.5L214.2 312.1L215.7 311.7L217.3 311.3L218.8 310.9L220.3 310.5L221.8 310.1L223.3 309.7L224.9 309.4L226.4 309L227.9 308.7L229.4 308.4L230.9 308.1L232.5 307.8L234 307.5L235.5 307.2L237 306.9L238.5 306.7L240 306.4L241.6 306.2L243.1 306L244.6 305.7L246.1 305.5L247.6 305.3L249.2 305.1L250.7 304.9L252.2 304.8L253.7 304.6L255.2 304.4L256.8 304.3L258.3 304.1L259.8 304L261.3 303.9L262.8 303.7L264.4 303.6L265.9 303.5L267.4 303.4L268.9 303.3L270.4 303.2L271.9 303.1L273.5 303.1L275 303L276.5 302.9L278 302.9L279.5 302.8L281.1 302.8L282.6 302.7L284.1 302.7L285.6 302.7L287.1 302.7L288.7 302.6L290.2 302.6L291.7 302.6" stroke="#a244d6" stroke-width="1.25" fill="none"/>
<path d="M38 352.7L38.8 352.5L39.5 352.3L40.3 352L41.1 351.8L41.8 351.6L42.6 351.4L43.3 351.2L44.1 351L44.9 350.8L45.6 350.6L46.4 350.4L47.1 350.2L47.9 350L48.7 349.7L49.4 349.5L50.2 349.3L51.7 348.9L53.2 348.5L54.7 348.1L56.2 347.7L57.8 347.3L59.3 346.9L60.8 346.5L62.3 346.1L63.8 345.7L65.4 345.3L66.9 344.9L68.4 344.5L69.9 344.1L71.4 343.7L73 343.4L74.5 343L76 342.6L77.5 342.2L79 341.8L80.6 341.4L82.1 341.1L83.6 340.7L85.1 340.3L86.6 339.9L88.1 339.5L89.7 339.2L91.2 338.8L92.7 338.4L94.2 338.1L95.7 337.7L97.3 337.4L98.8 337L100.3 336.6L101.8 336.3L103.3 335.9L104.9 335.6L106.4 335.2L107.9 334.9L109.4 334.5L110.9 334.2L112.4 333.9L114 333.5L115.5 333.2L117 332.8L118.5 332.5L120 332.1L121.6 331.8L123.1 331.5L124.6 331.1L126.1 330.8L127.6 330.4L129.2 330.1L130.7 329.7L132.2 329.4L133.7 329L135.2 328.6L136.8 328.3L138.3 327.9L139.8 327.5L141.3 327.2L142.8 326.8L144.3 326.4L145.9 326L147.4 325.6L148.9 325.2L150.4 324.8L151.9 324.4L153.5 324L155 323.6L156.5 323.2L158 322.8L159.5 322.3L161.1 321.9L162.6 321.5L164.1 321L165.6 320.5L167.1 320.1L168.7 319.6L170.2 319.1L171.7 318.6L173.2 318.2L174.7 317.7L176.2 317.2L177.8 316.7L179.3 316.1L180.8 315.6L182.3 315.1L183.8 314.6L185.4 314.1L186.9 313.6L188.4 313L189.9 312.5L191.4 312L193 311.5L194.5 311L196 310.5L197.5 310L199 309.5L200.6 309L202.1 308.5L203.6 308L205.1 307.5L206.6 307.1L208.1 306.6L209.7 306.2L211.2 305.7L212.7 305.3L214.2 304.9L215.7 304.5L217.3 304.1L218.8 303.7L220.3 303.3L221.8 302.9L223.3 302.5L224.9 302.2L226.4 301.9L227.9 301.5L229.4 301.2L230.9 300.9L232.5 300.6L234 300.3L235.5 300.1L237 299.8L238.5 299.6L240 299.3L241.6 299.1L243.1 298.9L244.6 298.7L246.1 298.5L247.6 298.3L249.2 298.1L250.7 297.9L252.2 297.7L253.7 297.6L255.2 297.4L256.8 297.3L258.3 297.2L259.8 297L261.3 296.9L262.8 296.8L264.4 296.7L265.9 296.6L267.4 296.5L268.9 296.4L270.4 296.3L271.9 296.3L273.5 296.2L275 296.1L276.5 296.1L278 296L279.5 296L281.1 296L282.6 295.9L284.1 295.9L285.6 295.9L287.1 295.9L288.7 295.8L290.2 295.8L291.7 295.8" stroke="#9c40d2" stroke-width="1.25" fill="none"/>
<path d="M38 348.4L38.8 348.1L39.5 347.9L40.3 347.7L41.1 347.5L41.8 347.2L42.6 347L43.3 346.8L44.1 346.6L44.9 346.3L45.6 346.1L46.4 345.9L47.1 345.7L47.9 345.5L48.7 345.2L49.4 345L50.2 344.8L51.7 344.4L53.2 343.9L54.7 343.5L56.2 343.1L57.8 342.6L59.3 342.2L60.8 341.8L62.3 341.4L63.8 340.9L65.4 340.5L66.9 340.1L68.4 339.7L69.9 339.2L71.4 338.8L73 338.4L74.5 338L76 337.6L77.5 337.2L79 336.8L80.6 336.3L82.1 335.9L83.6 335.5L85.1 335.1L86.6 334.7L88.1 334.3L89.7 333.9L91.2 333.5L92.7 333.1L94.2 332.7L95.7 332.3L97.3 332L98.8 331.6L100.3 331.2L101.8 330.8L103.3 330.4L104.9 330L106.4 329.7L107.9 329.3L109.4 328.9L110.9 328.6L112.4 328.2L114 327.8L115.5 327.4L117 327.1L118.5 326.7L120 326.3L121.6 326L123.1 325.6L124.6 325.2L126.1 324.8L127.6 324.5L129.2 324.1L130.7 323.7L132.2 323.3L133.7 322.9L135.2 322.5L136.8 322.2L138.3 321.8L139.8 321.4L141.3 321L142.8 320.6L144.3 320.2L145.9 319.7L147.4 319.3L148.9 318.9L150.4 318.5L151.9 318.1L153.5 317.6L155 317.2L156.5 316.7L158 316.3L159.5 315.8L161.1 315.3L162.6 314.9L164.1 314.4L165.6 313.9L167.1 313.4L168.7 312.9L170.2 312.4L171.7 311.9L173.2 311.4L174.7 310.9L176.2 310.3L177.8 309.8L179.3 309.3L180.8 308.8L182.3 308.2L183.8 307.7L185.4 307.1L186.9 306.6L188.4 306.1L189.9 305.5L191.4 305L193 304.5L194.5 303.9L196 303.4L197.5 302.9L199 302.4L200.6 301.9L202.1 301.4L203.6 300.9L205.1 300.4L206.6 299.9L208.1 299.4L209.7 299L211.2 298.5L212.7 298.1L214.2 297.7L215.7 297.3L217.3 296.9L218.8 296.5L220.3 296.1L221.8 295.7L223.3 295.4L224.9 295L226.4 294.7L227.9 294.3L229.4 294L230.9 293.7L232.5 293.5L234 293.2L235.5 292.9L237 292.7L238.5 292.4L240 292.2L241.6 292L243.1 291.8L244.6 291.6L246.1 291.4L247.6 291.2L249.2 291L250.7 290.9L252.2 290.7L253.7 290.6L255.2 290.4L256.8 290.3L258.3 290.2L259.8 290.1L261.3 290L262.8 289.9L264.4 289.8L265.9 289.7L267.4 289.6L268.9 289.6L270.4 289.5L271.9 289.4L273.5 289.4L275 289.3L276.5 289.3L278 289.2L279.5 289.2L281.1 289.2L282.6 289.1L284.1 289.1L285.6 289.1L287.1 289.1L288.7 289L290.2 289L291.7 289" stroke="#a653da" stroke-width="1.25" fill="none"/>
<path d="M38 339.7L38.8 339.5L39.5 339.2L40.3 339L41.1 338.7L41.8 338.5L42.6 338.2L43.3 337.9L44.1 337.7L44.9 337.5L45.6 337.2L46.4 337L47.1 336.7L47.9 336.5L48.7 336.2L49.4 336L50.2 335.7L51.7 335.2L53.2 334.7L54.7 334.3L56.2 333.8L57.8 333.3L59.3 332.8L60.8 332.3L62.3 331.8L63.8 331.4L65.4 330.9L66.9 330.4L68.4 329.9L69.9 329.5L71.4 329L73 328.5L74.5 328L76 327.6L77.5 327.1L79 326.6L80.6 326.2L82.1 325.7L83.6 325.2L85.1 324.8L86.6 324.3L88.1 323.9L89.7 323.4L91.2 323L92.7 322.5L94.2 322.1L95.7 321.6L97.3 321.2L98.8 320.7L100.3 320.3L101.8 319.8L103.3 319.4L104.9 319L106.4 318.5L107.9 318.1L109.4 317.7L110.9 317.3L112.4 316.8L114 316.4L115.5 316L117 315.5L118.5 315.1L120 314.7L121.6 314.3L123.1 313.8L124.6 313.4L126.1 313L127.6 312.5L129.2 312.1L130.7 311.7L132.2 311.2L133.7 310.8L135.2 310.4L136.8 309.9L138.3 309.5L139.8 309L141.3 308.6L142.8 308.1L144.3 307.6L145.9 307.2L147.4 306.7L148.9 306.2L150.4 305.8L151.9 305.3L153.5 304.8L155 304.3L156.5 303.8L158 303.3L159.5 302.8L161.1 302.2L162.6 301.7L164.1 301.2L165.6 300.7L167.1 300.1L168.7 299.6L170.2 299L171.7 298.4L173.2 297.9L174.7 297.3L176.2 296.7L177.8 296.2L179.3 295.6L180.8 295L182.3 294.4L183.8 293.8L185.4 293.2L186.9 292.7L188.4 292.1L189.9 291.5L191.4 290.9L193 290.4L194.5 289.8L196 289.2L197.5 288.7L199 288.2L200.6 287.6L202.1 287.1L203.6 286.6L205.1 286.1L206.6 285.6L208.1 285.1L209.7 284.6L211.2 284.2L212.7 283.7L214.2 283.3L215.7 282.9L217.3 282.5L218.8 282.1L220.3 281.7L221.8 281.3L223.3 281L224.9 280.6L226.4 280.3L227.9 280L229.4 279.7L230.9 279.4L232.5 279.1L234 278.9L235.5 278.6L237 278.4L238.5 278.2L240 278L241.6 277.8L243.1 277.6L244.6 277.4L246.1 277.2L247.6 277.1L249.2 276.9L250.7 276.8L252.2 276.7L253.7 276.6L255.2 276.5L256.8 276.4L258.3 276.3L259.8 276.2L261.3 276.1L262.8 276L264.4 276L265.9 275.9L267.4 275.9L268.9 275.8L270.4 275.8L271.9 275.7L273.5 275.7L275 275.6L276.5 275.6L278 275.6L279.5 275.6L281.1 275.5L282.6 275.5L284.1 275.5L285.6 275.5L287.1 275.4L288.7 275.4L290.2 275.4L291.7 275.4" stroke="#0d0d80" stroke-width="1.25" fill="none"/>
<path d="M38 335.4L38.8 335.1L39.5 334.9L40.3 334.6L41.1 334.3L41.8 334.1L42.6 333.8L43.3 333.5L44.1 333.3L44.9 333L45.6 332.7L46.4 332.5L47.1 332.2L47.9 332L48.7 331.7L49.4 331.4L50.2 331.2L51.7 330.7L53.2 330.1L54.7 329.6L56.2 329.1L57.8 328.6L59.3 328.1L60.8 327.6L62.3 327.1L63.8 326.6L65.4 326.1L66.9 325.6L68.4 325.1L69.9 324.6L71.4 324.1L73 323.6L74.5 323.1L76 322.6L77.5 322.1L79 321.6L80.6 321.1L82.1 320.6L83.6 320.1L85.1 319.6L86.6 319.1L88.1 318.6L89.7 318.2L91.2 317.7L92.7 317.2L94.2 316.7L95.7 316.2L97.3 315.8L98.8 315.3L100.3 314.8L101.8 314.4L103.3 313.9L104.9 313.4L106.4 313L107.9 312.5L109.4 312.1L110.9 311.6L112.4 311.2L114 310.7L115.5 310.2L117 309.8L118.5 309.3L120 308.9L121.6 308.4L123.1 308L124.6 307.5L126.1 307.1L127.6 306.6L129.2 306.1L130.7 305.7L132.2 305.2L133.7 304.7L135.2 304.3L136.8 303.8L138.3 303.3L139.8 302.8L141.3 302.4L142.8 301.9L144.3 301.4L145.9 300.9L147.4 300.4L148.9 299.9L150.4 299.4L151.9 298.9L153.5 298.4L155 297.8L156.5 297.3L158 296.8L159.5 296.2L161.1 295.7L162.6 295.1L164.1 294.6L165.6 294L167.1 293.4L168.7 292.9L170.2 292.3L171.7 291.7L173.2 291.1L174.7 290.5L176.2 289.9L177.8 289.3L179.3 288.7L180.8 288.1L182.3 287.5L183.8 286.9L185.4 286.3L186.9 285.7L188.4 285.1L189.9 284.5L191.4 283.9L193 283.3L194.5 282.7L196 282.2L197.5 281.6L199 281L200.6 280.5L202.1 280L203.6 279.4L205.1 278.9L206.6 278.4L208.1 277.9L209.7 277.5L211.2 277L212.7 276.6L214.2 276.1L215.7 275.7L217.3 275.3L218.8 274.9L220.3 274.5L221.8 274.1L223.3 273.8L224.9 273.4L226.4 273.1L227.9 272.8L229.4 272.5L230.9 272.2L232.5 272L234 271.7L235.5 271.5L237 271.2L238.5 271L240 270.8L241.6 270.7L243.1 270.5L244.6 270.3L246.1 270.2L247.6 270L249.2 269.9L250.7 269.8L252.2 269.7L253.7 269.6L255.2 269.5L256.8 269.4L258.3 269.3L259.8 269.2L261.3 269.2L262.8 269.1L264.4 269.1L265.9 269L267.4 269L268.9 268.9L270.4 268.9L271.9 268.9L273.5 268.8L275 268.8L276.5 268.8L278 268.8L279.5 268.7L281.1 268.7L282.6 268.7L284.1 268.7L285.6 268.7L287.1 268.6L288.7 268.6L290.2 268.6L291.7 268.6" stroke="#1616a2" stroke-width="1.25" fill="none"/>
<path d="M38 331.1L38.8 330.8L39.5 330.5L40.3 330.2L41.1 329.9L41.8 329.7L42.6 329.4L43.3 329.1L44.1 328.8L44.9 328.6L45.6 328.3L46.4 328L47.1 327.7L47.9 327.5L48.7 327.2L49.4 326.9L50.2 326.6L51.7 326.1L53.2 325.6L54.7 325L56.2 324.5L57.8 323.9L59.3 323.4L60.8 322.9L62.3 322.3L63.8 321.8L65.4 321.3L66.9 320.7L68.4 320.2L69.9 319.7L71.4 319.1L73 318.6L74.5 318.1L76 317.6L77.5 317L79 316.5L80.6 316L82.1 315.5L83.6 314.9L85.1 314.4L86.6 313.9L88.1 313.4L89.7 312.9L91.2 312.4L92.7 311.9L94.2 311.4L95.7 310.9L97.3 310.4L98.8 309.9L100.3 309.4L101.8 308.9L103.3 308.4L104.9 307.9L106.4 307.4L107.9 306.9L109.4 306.4L110.9 306L112.4 305.5L114 305L115.5 304.5L117 304L118.5 303.5L120 303.1L121.6 302.6L123.1 302.1L124.6 301.6L126.1 301.1L127.6 300.6L129.2 300.1L130.7 299.7L132.2 299.2L133.7 298.7L135.2 298.2L136.8 297.7L138.3 297.2L139.8 296.7L141.3 296.2L142.8 295.6L144.3 295.1L145.9 294.6L147.4 294.1L148.9 293.6L150.4 293L151.9 292.5L153.5 291.9L155 291.4L156.5 290.8L158 290.3L159.5 289.7L161.1 289.1L162.6 288.6L164.1 288L165.6 287.4L167.1 286.8L168.7 286.2L170.2 285.6L171.7 285L173.2 284.4L174.7 283.7L176.2 283.1L177.8 282.5L179.3 281.9L180.8 281.2L182.3 280.6L183.8 280L185.4 279.4L186.9 278.7L188.4 278.1L189.9 277.5L191.4 276.9L193 276.3L194.5 275.7L196 275.1L197.5 274.5L199 273.9L200.6 273.4L202.1 272.8L203.6 272.3L205.1 271.8L206.6 271.3L208.1 270.8L209.7 270.3L211.2 269.8L212.7 269.4L214.2 268.9L215.7 268.5L217.3 268.1L218.8 267.7L220.3 267.3L221.8 266.9L223.3 266.6L224.9 266.2L226.4 265.9L227.9 265.6L229.4 265.3L230.9 265.1L232.5 264.8L234 264.6L235.5 264.3L237 264.1L238.5 263.9L240 263.7L241.6 263.5L243.1 263.4L244.6 263.2L246.1 263.1L247.6 263L249.2 262.8L250.7 262.7L252.2 262.6L253.7 262.6L255.2 262.5L256.8 262.4L258.3 262.3L259.8 262.3L261.3 262.2L262.8 262.2L264.4 262.1L265.9 262.1L267.4 262.1L268.9 262.1L270.4 262L271.9 262L273.5 262L275 262L276.5 262L278 261.9L279.5 261.9L281.1 261.9L282.6 261.9L284.1 261.9L285.6 261.9L287.1 261.8L288.7 261.8L290.2 261.8L291.7 261.8" stroke="#2020c4" stroke-width="1.25" fill="none"/>
<path d="M38 326.7L38.8 326.4L39.5 326.2L40.3 325.9L41.1 325.6L41.8 325.3L42.6 325L43.3 324.7L44.1 324.4L44.9 324.1L45.6 323.8L46.4 323.5L47.1 323.3L47.9 323L48.7 322.7L49.4 322.4L50.2 322.1L51.7 321.5L53.2 321L54.7 320.4L56.2 319.8L57.8 319.3L59.3 318.7L60.8 318.1L62.3 317.6L63.8 317L65.4 316.4L66.9 315.9L68.4 315.3L69.9 314.8L71.4 314.2L73 313.7L74.5 313.1L76 312.5L77.5 312L79 311.4L80.6 310.9L82.1 310.3L83.6 309.8L85.1 309.3L86.6 308.7L88.1 308.2L89.7 307.6L91.2 307.1L92.7 306.6L94.2 306L95.7 305.5L97.3 305L98.8 304.4L100.3 303.9L101.8 303.4L103.3 302.9L104.9 302.4L106.4 301.8L107.9 301.3L109.4 300.8L110.9 300.3L112.4 299.8L114 299.3L115.5 298.8L117 298.3L118.5 297.8L120 297.2L121.6 296.7L123.1 296.2L124.6 295.7L126.1 295.2L127.6 294.7L129.2 294.2L130.7 293.6L132.2 293.1L133.7 292.6L135.2 292.1L136.8 291.6L138.3 291L139.8 290.5L141.3 290L142.8 289.4L144.3 288.9L145.9 288.3L147.4 287.8L148.9 287.2L150.4 286.7L151.9 286.1L153.5 285.5L155 284.9L156.5 284.4L158 283.8L159.5 283.2L161.1 282.6L162.6 282L164.1 281.4L165.6 280.8L167.1 280.1L168.7 279.5L170.2 278.9L171.7 278.2L173.2 277.6L174.7 276.9L176.2 276.3L177.8 275.7L179.3 275L180.8 274.4L182.3 273.7L183.8 273.1L185.4 272.4L186.9 271.8L188.4 271.1L189.9 270.5L191.4 269.9L193 269.2L194.5 268.6L196 268L197.5 267.4L199 266.8L200.6 266.3L202.1 265.7L203.6 265.2L205.1 264.6L206.6 264.1L208.1 263.6L209.7 263.1L211.2 262.6L212.7 262.2L214.2 261.7L215.7 261.3L217.3 260.9L218.8 260.5L220.3 260.1L221.8 259.7L223.3 259.4L224.9 259.1L226.4 258.7L227.9 258.4L229.4 258.2L230.9 257.9L232.5 257.6L234 257.4L235.5 257.2L237 257L238.5 256.8L240 256.6L241.6 256.4L243.1 256.3L244.6 256.1L246.1 256L247.6 255.9L249.2 255.8L250.7 255.7L252.2 255.6L253.7 255.6L255.2 255.5L256.8 255.4L258.3 255.4L259.8 255.3L261.3 255.3L262.8 255.3L264.4 255.2L265.9 255.2L267.4 255.2L268.9 255.2L270.4 255.2L271.9 255.2L273.5 255.1L275 255.1L276.5 255.1L278 255.1L279.5 255.1L281.1 255.1L282.6 255.1L284.1 255.1L285.6 255.1L287.1 255L288.7 255L290.2 255L291.7 255" stroke="#2626b2" stroke-width="1.25" fill="none"/>
<path d="M38 344L38.8 343.8L39.5 343.6L40.3 343.3L41.1 343.1L41.8 342.8L42.6 342.6L43.3 342.4L44.1 342.1L44.9 341.9L45.6 341.7L46.4 341.4L47.1 341.2L47.9 341L48.7 340.7L49.4 340.5L50.2 340.3L51.7 339.8L53.2 339.3L54.7 338.9L56.2 338.4L57.8 338L59.3 337.5L60.8 337L62.3 336.6L63.8 336.1L65.4 335.7L66.9 335.2L68.4 334.8L69.9 334.3L71.4 333.9L73 333.5L74.5 333L76 332.6L77.5 332.1L79 331.7L80.6 331.3L82.1 330.8L83.6 330.4L85.1 330L86.6 329.5L88.1 329.1L89.7 328.7L91.2 328.2L92.7 327.8L94.2 327.4L95.7 327L97.3 326.6L98.8 326.1L100.3 325.7L101.8 325.3L103.3 324.9L104.9 324.5L106.4 324.1L107.9 323.7L109.4 323.3L110.9 322.9L112.4 322.5L114 322.1L115.5 321.7L117 321.3L118.5 320.9L120 320.5L121.6 320.1L123.1 319.7L124.6 319.3L126.1 318.9L127.6 318.5L129.2 318.1L130.7 317.7L132.2 317.3L133.7 316.9L135.2 316.5L136.8 316L138.3 315.6L139.8 315.2L141.3 314.8L142.8 314.3L144.3 313.9L145.9 313.5L147.4 313L148.9 312.6L150.4 312.1L151.9 311.7L153.5 311.2L155 310.7L156.5 310.3L158 309.8L159.5 309.3L161.1 308.8L162.6 308.3L164.1 307.8L165.6 307.3L167.1 306.8L168.7 306.2L170.2 305.7L171.7 305.2L173.2 304.6L174.7 304.1L176.2 303.5L177.8 303L179.3 302.4L180.8 301.9L182.3 301.3L183.8 300.8L185.4 300.2L186.9 299.6L188.4 299.1L189.9 298.5L191.4 298L193 297.4L194.5 296.9L196 296.3L197.5 295.8L199 295.3L200.6 294.7L202.1 294.2L203.6 293.7L205.1 293.2L206.6 292.8L208.1 292.3L209.7 291.8L211.2 291.4L212.7 290.9L214.2 290.5L215.7 290.1L217.3 289.7L218.8 289.3L220.3 288.9L221.8 288.5L223.3 288.2L224.9 287.8L226.4 287.5L227.9 287.2L229.4 286.9L230.9 286.6L232.5 286.3L234 286L235.5 285.8L237 285.5L238.5 285.3L240 285.1L241.6 284.9L243.1 284.7L244.6 284.5L246.1 284.3L247.6 284.1L249.2 284L250.7 283.8L252.2 283.7L253.7 283.6L255.2 283.5L256.8 283.3L258.3 283.2L259.8 283.1L261.3 283L262.8 283L264.4 282.9L265.9 282.8L267.4 282.7L268.9 282.7L270.4 282.6L271.9 282.6L273.5 282.5L275 282.5L276.5 282.4L278 282.4L279.5 282.4L281.1 282.3L282.6 282.3L284.1 282.3L285.6 282.3L287.1 282.2L288.7 282.2L290.2 282.2L291.7 282.2" stroke="#2fd62f" stroke-width="1.2" fill="none"/>
</g>
<rect x="35.5" y="229.6" width="257" height="153.9" fill="none" stroke="#7c7c7c" stroke-width="1"/>
<path d="M36.5 383.5v2.9M54.7 383.5v2.9M73 383.5v2.9M91.2 383.5v2.9M109.4 383.5v2.9M127.6 383.5v2.9M145.9 383.5v2.9M164.1 383.5v2.9M182.3 383.5v2.9M200.6 383.5v2.9M218.8 383.5v2.9M237 383.5v2.9M255.2 383.5v2.9M273.5 383.5v2.9M291.7 383.5v2.9M35.5 353.8h-2.9M35.5 307h-2.9M35.5 260.2h-2.9" stroke="#333" stroke-width=".9" fill="none"/>
<g font-size="8.4" fill="#474747">
<g text-anchor="middle">
<text x="37.8" y="394.8">60</text>
<text x="54.7" y="394.8">72</text>
<text x="73" y="394.8">84</text>
<text x="91.2" y="394.8">96</text>
<text x="109.4" y="394.8">108</text>
<text x="127.6" y="394.8">120</text>
<text x="145.9" y="394.8">132</text>
<text x="164.1" y="394.8">144</text>
<text x="182.3" y="394.8">156</text>
<text x="200.6" y="394.8">168</text>
<text x="218.8" y="394.8">180</text>
<text x="237" y="394.8">192</text>
<text x="255.2" y="394.8">204</text>
<text x="273.5" y="394.8">216</text>
<text x="291.7" y="394.8">228</text>
</g><g text-anchor="end">
<text x="30.6" y="356.8">100</text>
<text x="30.6" y="310">150</text>
<text x="30.6" y="263.2">200</text>
</g></g>
<text x="164" y="407" font-size="10.5" text-anchor="middle" fill="#000">Age (month)</text>
<text transform="translate(11.4 306.6) rotate(-90)" font-size="10.5" text-anchor="middle" fill="#000">Height (cm)</text>
<text x="335" y="221.6" font-size="12.6" fill="#000">Females, 5 to 18 years old</text>
<rect x="334.6" y="229.6" width="257.5" height="153.9" fill="#fff"/>
<path d="M334.6 377.2H592.1M334.6 330.4H592.1M334.6 283.6H592.1M334.6 236.8H592.1" stroke="#ececec" stroke-width=".55" fill="none"/>
<path d="M334.6 353.8H592.1M334.6 307H592.1M334.6 260.2H592.1M335.8 229.6V383.5M355.5 229.6V383.5M375.2 229.6V383.5M395 229.6V383.5M414.7 229.6V383.5M434.4 229.6V383.5M454.1 229.6V383.5M473.9 229.6V383.5M493.6 229.6V383.5M513.3 229.6V383.5M533 229.6V383.5M552.8 229.6V383.5M572.5 229.6V383.5" stroke="#e4e4e4" stroke-width=".8" fill="none"/>
<clipPath id="cd"><rect x="334.6" y="229.6" width="257.5" height="153.9"/></clipPath>
<g clip-path="url(#cd)">
<path d="M335.8 354.5V329.6M337.4 355.8V331.9M339.1 355V330.9M340.7 354.5V328.4M342.4 354.2V329.1M344 355.9V328.8M345.7 354.4V326.8M347.3 352.3V328.7M348.9 354.4V326.9M350.6 354.1V327.5M352.2 351.9V325.7M353.9 350.6V325.9M355.5 350.3V325.1M357.2 350V325.2M358.8 349.3V324.8M360.5 348.7V324.4M362.1 350.2V322.2M363.7 350.5V321.7M365.4 351.1V321.1M367 347.8V319.6M368.7 350.4V321.6M370.3 346.6V319.3M372 347.7V319.1M373.6 346.9V319.1M375.2 345.6V316.6M376.9 344.9V317.4M378.5 345.6V317.8M380.2 347.7V317.4M381.8 343.8V317.1M383.5 345V315.4M385.1 343.2V315.6M386.8 343.9V315.6M388.4 343.3V314.8M390 342.4V314.4M391.7 341.5V313.2M393.3 343.6V313.4M395 341.6V310.1M396.6 342.3V310.9M398.3 342.5V310.5M399.9 340V310.6M401.5 339.4V310.1M403.2 342.2V310.2M404.8 338.4V309.3M406.5 338V307.8M408.1 341.3V308.3M409.8 341.4V306.2M411.4 337.6V305.3M413.1 339.1V306.4M414.7 336.3V304.8M416.3 339.3V303M418 336.3V304.4M419.6 337.8V303.7M421.3 334.4V300.6M422.9 334.3V300.1M424.6 337.3V303.1M426.2 335.5V300.9M427.8 333.3V298.4M429.5 332.8V297.6M431.1 335.4V300.4M432.8 331.4V299.5M434.4 335.3V296.8M436.1 333.9V297.2M437.7 332.7V298.5M439.4 329.6V296.6M441 329.1V297.4M442.6 332.2V296.8M444.3 332.4V294.7M445.9 331.5V296M447.6 327.3V294.7M449.2 330.8V294.8M450.9 326.6V293.6M452.5 327.6V294.6M454.1 328.7V294.2M455.8 327.5V293.5M457.4 327.1V293M459.1 324.6V291.3M460.7 323.7V289.8M462.4 323.3V292.5M464 323.3V288.2M465.7 322.9V290.6M467.3 321.9V287.2M468.9 321.4V289.2M470.6 321.2V286.9M472.2 323.9V288.1M473.9 320.8V287.9M475.5 319.6V290M477.2 319.3V288M478.8 318.8V288.1M480.4 319.2V285.2M482.1 318V284.9M483.7 317.9V287.5M485.4 321.5V288.4M487 317.3V288M488.7 316.7V284.7M490.3 316.4V287.8M492 320.2V285.4M493.6 317.4V284.5M495.2 315.8V286.9M496.9 316.2V285M498.5 315.1V285M500.2 314.1V285M501.8 314.1V285.2M503.5 315.3V286.2M505.1 314.9V285.4M506.7 316.1V285.8M508.4 312.7V286.2M510 312.4V282.1M511.7 312.6V285.3M513.3 316.7V285.3M515 311.7V282M516.6 312.3V283.2M518.3 313.7V281.6M519.9 315V281.7M521.5 314.8V283.7M523.2 311.5V283M524.8 310.6V282.2M526.5 311.2V283.6M528.1 313.1V282.3M529.8 310.7V284.3M531.4 310.5V283.7M533 310.9V284.3M534.7 309.7V283.7M536.3 312.5V284.4M538 310.4V282M539.6 310.7V283.7M541.3 309.1V284.9M542.9 309.1V285.8M544.5 309.6V285.3M546.2 310.8V285.7M547.8 311.5V284.4M549.5 309.9V282.3M551.1 309.1V282M552.8 311.9V285.8M554.4 309.9V282.8M556.1 309.8V286M557.7 309.7V284.3M559.3 309.4V282.3M561 308.7V284M562.6 312.6V285.9M564.3 308.3V285.7M565.9 309.6V283.7M567.6 308.4V282.7M569.2 308V286.1M570.8 309.3V285.1M572.5 309.7V284M574.1 311.7V286.3M575.8 308.2V286.3M577.4 308.3V284.9M579.1 308.1V286.4M580.7 311.2V286M582.4 308.5V283.3M584 308.3V285.5M585.6 308.1V285.9M587.3 310.9V282.6M588.9 311.4V283.1M590.6 308.4V286.7" stroke="#050505" stroke-width="1.6" fill="none"/>
<path d="M340.5 353.7V330.5M345.5 352.5V328.8M350.5 351.4V327.2M355.5 350.2V325.5M360.5 349.1V323.8M365.5 347.9V322.1M370.5 346.8V320.5M375.5 345.7V318.8M380.5 344.5V317.1M385.5 343.4V315.4M390.5 342.3V313.8M395.5 341.1V312.1M400.5 339.9V310.4M405.5 338.8V308.7M410.5 337.6V307.1M415.5 336.3V305.4M420.5 335.1V303.7M425.5 333.8V302M430.5 332.5V300.3M435.5 331.1V298.6M440.5 329.8V296.9M445.5 328.4V295.6M450.5 327V294.4M455.5 325.6V293.3M460.5 324.2V292.2M465.5 322.8V291.2M470.5 321.5V290.2M475.5 320.2V289.3M480.5 318.9V288.5M485.5 317.7V287.8M490.5 316.6V287.2M495.5 315.5V286.7M500.5 314.6V286.3M505.5 313.7V286M510.5 312.9V285.7M515.5 312.2V285.4M520.5 311.6V285.2M525.5 311V285.1M530.5 310.6V285.1M535.5 310.1V285.1M540.5 309.8V285.2M545.5 309.5V285.3M550.5 309.2V285.4M555.5 309V285.4M560.5 308.8V285.5M565.5 308.7V285.6M570.5 308.5V285.6M575.5 308.4V285.7M580.5 308.4V285.9M585.5 308.3V286" stroke="#e6e6e6" stroke-opacity="0.7" stroke-width="1" fill="none"/>
<path d="M335.4 327.8h.01M335.9 357.3h.01M336.1 356.3h.01M335.6 355.6h.01M337.1 330.8h.01M337.4 331.3h.01M336.9 327.6h.01M337.3 356.5h.01M337.3 356.3h.01M337.4 358.3h.01M339.4 330.2h.01M339.1 330.5h.01M339.2 356.7h.01M339.4 355.5h.01M339.4 356.2h.01M341.1 327.5h.01M340.4 327.8h.01M340.5 327.3h.01M340.9 357.9h.01M340.9 357.2h.01M341.3 356.6h.01M342.2 321.4h.01M342.5 355.1h.01M344.7 327.2h.01M344 327.6h.01M344.2 322.6h.01M344.2 357.8h.01M345.5 322.4h.01M345.2 355.2h.01M345.5 355.7h.01M345.7 357h.01M347 327.3h.01M347 353h.01M349 323.4h.01M349.2 323.9h.01M348.7 325.7h.01M349.2 355.1h.01M349.3 356.8h.01M348.9 355.7h.01M350.5 326.9h.01M351 323.6h.01M351.1 326.3h.01M350.7 354.6h.01M350.7 355.6h.01M350.7 356.1h.01M351.3 321.2h.01M352.5 324.8h.01M352.2 352.5h.01M354 323.8h.01M354 324.9h.01M353.6 325.4h.01M353.8 354.5h.01M353.5 352.7h.01M355.7 324.5h.01M355.4 323h.01M355.8 351h.01M355.2 352.1h.01M355.9 350.9h.01M357.4 323.1h.01M357.2 323.7h.01M356.8 351.6h.01M358.4 322.3h.01M358.9 322h.01M359.1 350.5h.01M358.4 350.6h.01M360.2 322.4h.01M360.2 323.6h.01M361.2 322.8h.01M360.7 349.3h.01M361.8 321.4h.01M362.5 321.3h.01M362.3 351.5h.01M362.1 351.6h.01M363.9 320.6h.01M363.9 353h.01M363.4 353.9h.01M365.7 319.5h.01M365.6 320.4h.01M365.5 319.9h.01M365.1 352.1h.01M365.3 354.3h.01M366.3 356.4h.01M366.7 318.7h.01M366.7 349.2h.01M367 354h.01M368.7 319.4h.01M369 317.3h.01M368.9 352.7h.01M370 317.3h.01M369.8 347.4h.01M372.2 316.9h.01M372 317.3h.01M371.7 350.3h.01M374.2 316h.01M373.8 318.2h.01M373.2 318.5h.01M373.8 349.8h.01M374 347.6h.01M373.6 349.2h.01M375.4 315.8h.01M374.9 350.9h.01M374.8 346.1h.01M377.4 314.2h.01M376.7 314h.01M377 316.9h.01M376.7 350.6h.01M376.5 345.9h.01M378.6 316h.01M378.2 317h.01M378.4 347.2h.01M378.3 347h.01M380.2 315.2h.01M380.3 349.7h.01M379.9 348.4h.01M380.7 349.7h.01M381.6 316h.01M381.8 316.4h.01M381.8 345.2h.01M382.2 346.4h.01M383.8 307.4h.01M383.8 312.5h.01M384 347.3h.01M383.5 346.1h.01M383 345.7h.01M385.4 314.4h.01M385.4 312.8h.01M385.1 344.4h.01M387.2 314.8h.01M386 345.9h.01M388.4 314.1h.01M388.4 344.6h.01M388.4 344.2h.01M389.7 313.7h.01M389.5 345.5h.01M389.8 348.2h.01M389.9 346.3h.01M391.6 312.1h.01M391.5 312.4h.01M391.8 311.6h.01M391.1 343.1h.01M391.9 343.2h.01M393.2 309.8h.01M393.6 344.9h.01M393.3 345.6h.01M393.5 344.5h.01M395 307.6h.01M395.3 347.5h.01M395.9 307.9h.01M396 343.2h.01M396.4 344.2h.01M398.8 309.9h.01M398.5 308.2h.01M398.5 309.9h.01M398.2 343.9h.01M400.1 309.7h.01M399.1 304.2h.01M400.1 308.1h.01M400.7 340.9h.01M400.3 342.1h.01M401.5 306.7h.01M401.3 307.4h.01M401.2 345h.01M401.8 341h.01M403.5 308.6h.01M402.7 304.1h.01M403 307.8h.01M403.2 343.2h.01M403.5 345.3h.01M404.7 306.5h.01M404.5 308.6h.01M405.1 304.4h.01M405.2 339.9h.01M406.9 304.2h.01M406.2 344.5h.01M406.9 339.2h.01M408 303.1h.01M407.5 307.4h.01M407.8 342h.01M407.9 342h.01M408.1 343.7h.01M409.9 304.7h.01M409.8 305.4h.01M409.9 344.2h.01M409.8 346.1h.01M410.1 343.4h.01M411.7 303.9h.01M411 302.7h.01M412 303.3h.01M411 340.5h.01M412.6 305.7h.01M413 304.7h.01M413.1 304.5h.01M412.4 341.3h.01M412.8 340.9h.01M412.9 339.7h.01M415.3 303.1h.01M414.2 302.1h.01M414.9 302.5h.01M414.4 337.3h.01M414.5 338.9h.01M414.5 337.3h.01M416.6 298.7h.01M416.6 302.1h.01M415.9 340.5h.01M417.8 303.3h.01M418.4 338.5h.01M418.3 337.4h.01M418 338.9h.01M419.7 300.9h.01M419.8 303h.01M419.8 302h.01M419.6 338.9h.01M420.9 297.4h.01M421.2 294h.01M421.6 297.5h.01M421.4 335h.01M421.3 335.2h.01M422.2 296h.01M423 298.9h.01M422.5 298.9h.01M422.8 337.1h.01M423.1 336h.01M424.7 302h.01M424.6 341.5h.01M426.3 298.3h.01M426.1 300.1h.01M426.1 298.9h.01M426.5 340.5h.01M428.1 296.4h.01M427.7 294.4h.01M427.8 294.6h.01M428 336.2h.01M428.4 334.4h.01M428.7 294h.01M429.4 334.5h.01M431.3 299.5h.01M431.5 341.4h.01M430.7 336.6h.01M431.5 336.7h.01M432.8 298.7h.01M432.6 298.1h.01M432.8 298.6h.01M432.4 333.2h.01M432.7 334h.01M434.4 295.6h.01M434.1 339h.01M434.5 339.1h.01M436 295.9h.01M435.8 351.8h.01M436 336.3h.01M436.4 335.9h.01M437.9 295.9h.01M437.7 333.7h.01M437.6 334.8h.01M439.8 291.4h.01M439.6 331h.01M439.7 331.7h.01M441.1 296.7h.01M440.9 294.5h.01M440.9 295.1h.01M440.9 332.8h.01M441.1 329.7h.01M442.6 293.4h.01M442.6 333.7h.01M444.5 293.8h.01M444.4 290.2h.01M444.5 334h.01M444.1 333.1h.01M445.1 333.5h.01M446.3 295.3h.01M446 294.8h.01M446.7 335.9h.01M446.2 332.2h.01M446 332.3h.01M447.7 293h.01M447.8 333.4h.01M449.2 293.9h.01M449.1 293.2h.01M449.2 289.7h.01M448.6 332.1h.01M450.6 291.7h.01M450.7 329.8h.01M452.8 287.9h.01M452.6 329.6h.01M452.3 329.6h.01M454.3 289.3h.01M454.3 292.6h.01M453.7 330h.01M454.5 330.3h.01M456.2 291.9h.01M455.7 328.3h.01M457.5 291.4h.01M457.4 288.5h.01M457.9 284.3h.01M457.2 328.2h.01M457.9 330.4h.01M456.9 328.1h.01M458.7 285.6h.01M458.9 290.2h.01M459.1 326h.01M458.9 326.3h.01M461.1 288.4h.01M460.8 285.7h.01M460.7 282.9h.01M461.2 326.6h.01M462.1 286.1h.01M462.5 328.2h.01M462.1 325.4h.01M462.8 325.1h.01M463.9 284.8h.01M464.5 282.8h.01M464 286.1h.01M464 324.2h.01M463.9 325h.01M463.9 326.4h.01M466 289.9h.01M465.7 287.6h.01M465.4 289.4h.01M465.3 323.7h.01M465.4 329.8h.01M467.8 286.5h.01M467.3 285.8h.01M467.3 322.8h.01M468 331.4h.01M467.3 322.7h.01M469.7 280.4h.01M468.9 287.9h.01M469 325h.01M469.1 323.4h.01M470.9 284.6h.01M470.7 283.7h.01M470.6 323.8h.01M470.6 326.6h.01M472.3 286.4h.01M472.6 287.2h.01M472.3 324.7h.01M473.7 281.6h.01M473.9 282.7h.01M473.9 287.1h.01M473.6 322.3h.01M473.8 322h.01M475.6 288.4h.01M475.9 324.6h.01M475.2 326.8h.01M476 320.6h.01M477.1 286.7h.01M477.1 320.2h.01M477 320.7h.01M477 321.8h.01M478.6 286.2h.01M478.5 285.8h.01M478.8 287.2h.01M479.4 320.2h.01M480.3 283.7h.01M480.9 277.9h.01M480 281.1h.01M480.9 322.8h.01M479.8 320h.01M480.4 325.9h.01M482.5 282.9h.01M481.4 283.9h.01M482.6 283.5h.01M481.7 320.4h.01M483.6 286.8h.01M483.8 285.2h.01M483.6 318.6h.01M485.5 287.2h.01M485.5 325.3h.01M487.2 287h.01M487.4 319.1h.01M486.8 318.1h.01M487.3 319.5h.01M488.8 283.1h.01M488.9 318h.01M489 321.4h.01M490.1 286.4h.01M490 280.9h.01M490.4 320.1h.01M490.6 319.4h.01M490.1 318.4h.01M491.7 282.6h.01M492 284.3h.01M492.2 321.2h.01M491.3 321.8h.01M491.8 322.1h.01M493.5 282.9h.01M493.8 278.1h.01M493.5 320.1h.01M494.9 283.7h.01M495.4 286h.01M495.3 317.2h.01M494.8 316.9h.01M494.8 316.6h.01M496.5 283.6h.01M496.9 283.1h.01M496.9 318h.01M497 326.5h.01M496.2 318.3h.01M498.3 283.5h.01M498.5 282.5h.01M498.2 316.2h.01M498.6 318.1h.01M498.1 317h.01M500.1 281.3h.01M499.8 283.4h.01M500.6 319.2h.01M500.4 315.2h.01M500.2 315h.01M502 284.6h.01M501.5 283.9h.01M501.2 317h.01M503.5 282.6h.01M503.4 316.4h.01M503.5 317.2h.01M505 282.1h.01M505.2 316.3h.01M505.1 316.6h.01M506.3 283.1h.01M506.5 277.6h.01M506.3 284.6h.01M506.8 317.1h.01M506.6 320.9h.01M508.3 284.5h.01M508.2 315.1h.01M508.1 313.5h.01M509.7 280.2h.01M510 279.7h.01M510.1 280.6h.01M510.3 313.1h.01M510.2 314.6h.01M512 283.7h.01M511.8 313.6h.01M513.3 284.6h.01M512.9 276.2h.01M513.5 283.9h.01M513.1 317.8h.01M513.8 317.8h.01M513.9 319h.01M514.5 279.7h.01M514.9 278.6h.01M514.8 279.9h.01M515.1 313.6h.01M515.6 313h.01M516.5 281.3h.01M515.8 313.2h.01M516.6 316.3h.01M516.8 313.5h.01M517.7 280.5h.01M518.4 280h.01M518.2 318.6h.01M519.7 279.2h.01M520.2 316.2h.01M519.6 316.2h.01M519.6 320h.01M521.7 283h.01M521.3 317h.01M521.7 316h.01M522 316.9h.01M523.2 280.4h.01M522.9 281.2h.01M522.9 280.7h.01M522.8 312.3h.01M522.9 312.3h.01M525.2 281.1h.01M524.8 280h.01M524.1 311.8h.01M525 312.3h.01M526.5 281h.01M527.2 279.4h.01M526.7 312.7h.01M525.9 312.9h.01M528.5 280.6h.01M527.8 280.5h.01M528.2 280.7h.01M528.2 314.6h.01M527.7 314.3h.01M529.6 283.5h.01M529.6 282.1h.01M529.9 311.8h.01M529.9 315.6h.01M530.1 313.4h.01M531.7 282.6h.01M531.3 282.8h.01M531.6 278.8h.01M531.2 313.3h.01M532.5 280.6h.01M532.8 282.9h.01M533.2 315h.01M533.4 313.1h.01M533 312.8h.01M534.6 281.2h.01M535.1 282.9h.01M534.7 310.3h.01M534.9 310.3h.01M534.2 310.8h.01M536.6 282.8h.01M535.8 280.8h.01M536.5 316.7h.01M536 314.7h.01M538.3 277.6h.01M538 281.4h.01M537.8 281.4h.01M538.6 311.9h.01M539.1 282h.01M540 282.7h.01M540 312.3h.01M541.4 284h.01M541.5 281.1h.01M540.7 282.6h.01M540.8 311.4h.01M543.3 284.8h.01M542.8 280.8h.01M543 282.4h.01M543 310.2h.01M542.7 312.4h.01M543.1 309.8h.01M544.8 282.6h.01M544.4 282.9h.01M544.6 283.9h.01M544.4 310.8h.01M546.7 282.3h.01M546.6 284.5h.01M546 312.3h.01M548.4 283.5h.01M548.3 282.2h.01M547.8 281.9h.01M548 312.2h.01M547.3 312.6h.01M547.5 313.1h.01M549.3 279.9h.01M549.8 281h.01M549.6 281.1h.01M549.3 311.2h.01M549.2 311.2h.01M549.6 313.1h.01M551.4 279.6h.01M551.6 279.8h.01M551 281.2h.01M550.9 312h.01M552.4 284.2h.01M552.2 284.6h.01M552.8 312.8h.01M554.4 275.8h.01M554.3 280.3h.01M554.6 281.9h.01M554.4 312.4h.01M554.5 313.4h.01M556.5 285.1h.01M556 311.9h.01M556.3 310.7h.01M555.8 313.3h.01M557.6 283.6h.01M558.1 283.6h.01M557.7 314.4h.01M559.7 280.6h.01M558.9 278.4h.01M559.5 311.9h.01M561.2 280.1h.01M560.7 309.9h.01M563 284.4h.01M562.4 280.4h.01M562.8 282.8h.01M563.1 317.8h.01M564.1 284.1h.01M564.2 309.2h.01M565.8 282.8h.01M565.9 311.2h.01M567.5 279.8h.01M567.5 279.6h.01M567.1 281.1h.01M567.3 311.5h.01M568.7 284.6h.01M569.3 285.2h.01M569.5 284.9h.01M569.4 309.6h.01M568.9 316.4h.01M569.1 309.6h.01M571 283.5h.01M570.9 310h.01M570.7 311.9h.01M571 310.2h.01M572.4 282.3h.01M572.6 282.7h.01M572.5 283h.01M572.8 312.6h.01M572.7 311.1h.01M572.8 310.7h.01M574.2 285.3h.01M573.5 283.1h.01M574.8 285.6h.01M574 316.7h.01M575.6 281.2h.01M576.2 317.3h.01M575.9 315.2h.01M577.7 284h.01M577.7 284.1h.01M577.6 312.6h.01M579.2 282h.01M579.8 309.1h.01M579.2 310.4h.01M580.5 285.1h.01M580.6 314.9h.01M581.2 312.3h.01M582 279.9h.01M582.6 309.3h.01M584 284h.01M584.2 311.9h.01M584.3 309h.01M586.2 285.2h.01M586.1 285.2h.01M585.8 309.5h.01M585.7 313.5h.01M587.2 280.8h.01M587.4 281.9h.01M586.7 311.5h.01M587.1 311.7h.01M589.1 280.8h.01M589.1 313.2h.01M590.7 286h.01M590.4 283.4h.01M590 283.2h.01M590.2 312.1h.01M590.6 310.2h.01" stroke="#111" stroke-width="1.45" stroke-linecap="round" fill="none"/>
<path d="M337.4 278h.01M340.7 278h.01M353.9 276.1h.01M367 259.3h.01M381.8 261.1h.01M348.9 295.8h.01M355.5 293h.01M360.5 286.4h.01M372 299.5h.01M399.9 284.5h.01M406.5 282.7h.01M436.1 265.8h.01M447.6 284.5h.01M467.3 271.4h.01M480.4 299.5h.01M490.3 337.9h.01M496.9 333.2h.01M526.5 342.6h.01M546.5 363.2h.01M342.4 319.2h.01M345.7 322.9h.01M385.1 307h.01M393.3 305.1h.01M542.9 280.6h.01M368.7 316.8h.01M557.7 328.5h.01M460.7 287.8h.01M590.6 313.3h.01M470.6 284.2h.01M480.4 275.1h.01M523.2 281.7h.01M534.7 279.3h.01M436.1 335.2h.01M398.3 306.4h.01M542.9 279.1h.01M365.4 350.7h.01M431.1 336.2h.01M579.1 315.4h.01M450.9 339.1h.01M542.9 280.3h.01M376.9 309.3h.01M538 316.2h.01M452.5 336.9h.01M521.5 317.9h.01M459.1 332.2h.01M409.8 341.3h.01M368.7 317.5h.01M345.7 356h.01M388.4 309.7h.01M556.1 277h.01M539.6 279.6h.01M567.6 280.4h.01M363.7 354.5h.01M534.7 277.5h.01M503.5 317.6h.01M483.7 334.9h.01M416.3 340.8h.01M477.2 284.4h.01M478.8 323.2h.01M442.6 292.5h.01M442.6 278.8h.01M340.7 362.9h.01M335.8 367.4h.01M355.5 322h.01M335.8 329.8h.01M393.3 346.1h.01M570.8 277.2h.01M547.8 280.4h.01M544.5 281.3h.01M506.7 281.7h.01M547.8 271.2h.01M584 314h.01M373.6 359.8h.01M383.5 347.3h.01M546.2 281.9h.01M564.3 275.9h.01M399.9 307.7h.01M582.4 311.5h.01M538 314.4h.01M505.1 282.7h.01M533 321.6h.01M403.2 351.1h.01M478.8 284.8h.01" stroke="#111" stroke-width="1.6" stroke-linecap="round" fill="none"/>
<path d="M335.8 345.4L337.4 344.8L339.1 344.3L340.7 343.8L342.4 343.3L344 342.8L345.7 342.3L347.3 341.7L348.9 341.2L350.6 340.7L352.2 340.2L353.9 339.7L355.5 339.2L357.2 338.7L358.8 338.2L360.5 337.6L362.1 337.1L363.7 336.6L365.4 336.1L367 335.6L368.7 335.1L370.3 334.6L372 334L373.6 333.5L375.2 333L376.9 332.5L378.5 332.1L380.2 331.6L381.8 331.1L383.5 330.6L385.1 330.2L386.8 329.7L388.4 329.2L390 328.7L391.7 328.2L393.3 327.8L395 327.3L396.6 326.8L398.3 326.3L399.9 325.8L401.5 325.3L403.2 324.8L404.8 324.3L406.5 323.9L408.1 323.4L409.8 322.9L411.4 322.4L413.1 321.9L414.7 321.4L416.3 320.9L418 320.4L419.6 319.9L421.3 319.4L422.9 318.9L424.6 318.5L426.2 318L427.8 317.5L429.5 317L431.1 316.5L432.8 316L434.4 315.5L436.1 315L437.7 314.5L439.4 314L441 313.4L442.6 312.9L444.3 312.4L445.9 311.9L447.6 311.4L449.2 310.9L450.9 310.4L452.5 309.9L454.1 309.4L455.8 308.9L457.4 308.5L459.1 308L460.7 307.6L462.4 307.1L464 306.7L465.7 306.3L467.3 305.8L468.9 305.4L470.6 305L472.2 304.6L473.9 304.2L475.5 303.8L477.2 303.5L478.8 303.2L480.4 302.9L482.1 302.6L483.7 302.3L485.4 302L487 301.8L488.7 301.5L490.3 301.2L492 301L493.6 300.8L495.2 300.6L496.9 300.5L498.5 300.4L500.2 300.3L501.8 300.2L503.5 300.1L505.1 300L506.7 299.9L508.4 299.9L510 299.8L511.7 299.8L513.3 299.8L515 299.6L516.6 299.5L518.3 299.4L519.9 299.3L521.5 299.3L523.2 299.2L524.8 299.1L526.5 299.1L528.1 299L529.8 299L531.4 298.9L533 298.9L534.7 298.8L536.3 298.7L538 298.7L539.6 298.6L541.3 298.6L542.9 298.5L544.5 298.5L546.2 298.4L547.8 298.4L549.5 298.4L551.1 298.3L552.8 298.3L554.4 298.3L556.1 298.2L557.7 298.2L559.3 298.2L561 298.1L562.6 298.1L564.3 298.1L565.9 298.1L567.6 298L569.2 298L570.8 298L572.5 298L574.1 298L575.8 298L577.4 298L579.1 297.9L580.7 297.9L582.4 297.9L584 297.9L585.6 297.9L587.3 297.9L588.9 297.9L590.6 297.9" stroke="#f20d0d" stroke-width="5.0" stroke-linecap="round" stroke-linejoin="round" fill="none"/>
<path d="M337.4 362.6L338.3 362.4L339.1 362.3L339.9 362.1L340.7 361.9L341.6 361.7L342.4 361.6L343.2 361.4L344 361.2L344.8 361.1L345.7 360.9L346.5 360.7L347.3 360.5L348.1 360.4L348.9 360.2L349.8 360L350.6 359.9L352.2 359.5L353.9 359.2L355.5 358.9L357.2 358.6L358.8 358.2L360.5 357.9L362.1 357.6L363.7 357.3L365.4 357L367 356.6L368.7 356.3L370.3 356L372 355.7L373.6 355.4L375.2 355L376.9 354.7L378.5 354.4L380.2 354.1L381.8 353.8L383.5 353.4L385.1 353.1L386.8 352.8L388.4 352.5L390 352.1L391.7 351.8L393.3 351.5L395 351.1L396.6 350.8L398.3 350.5L399.9 350.1L401.5 349.8L403.2 349.4L404.8 349.1L406.5 348.7L408.1 348.4L409.8 348L411.4 347.7L413.1 347.3L414.7 347L416.3 346.6L418 346.2L419.6 345.8L421.3 345.5L422.9 345.1L424.6 344.7L426.2 344.3L427.8 343.9L429.5 343.5L431.1 343.1L432.8 342.7L434.4 342.3L436.1 341.9L437.7 341.5L439.4 341L441 340.6L442.6 340.2L444.3 339.7L445.9 339.3L447.6 338.9L449.2 338.4L450.9 338L452.5 337.5L454.1 337.1L455.8 336.7L457.4 336.2L459.1 335.8L460.7 335.3L462.4 334.9L464 334.4L465.7 334L467.3 333.6L468.9 333.1L470.6 332.7L472.2 332.3L473.9 331.8L475.5 331.4L477.2 331L478.8 330.6L480.4 330.2L482.1 329.8L483.7 329.4L485.4 329L487 328.6L488.7 328.2L490.3 327.8L492 327.4L493.6 327.1L495.2 326.7L496.9 326.4L498.5 326.1L500.2 325.7L501.8 325.4L503.5 325.1L505.1 324.8L506.7 324.5L508.4 324.3L510 324L511.7 323.8L513.3 323.5L515 323.3L516.6 323.1L518.3 322.9L519.9 322.6L521.5 322.5L523.2 322.3L524.8 322.1L526.5 321.9L528.1 321.7L529.8 321.6L531.4 321.4L533 321.3L534.7 321.1L536.3 321L538 320.9L539.6 320.8L541.3 320.6L542.9 320.5L544.5 320.4L546.2 320.3L547.8 320.2L549.5 320.1L551.1 320.1L552.8 320L554.4 319.9L556.1 319.8L557.7 319.8L559.3 319.7L561 319.7L562.6 319.6L564.3 319.5L565.9 319.5L567.6 319.5L569.2 319.4L570.8 319.4L572.5 319.4L574.1 319.3L575.8 319.3L577.4 319.3L579.1 319.3L580.7 319.2L582.4 319.2L584 319.2L585.6 319.2L587.3 319.2L588.9 319.2L590.6 319.1L592.2 319.1" stroke="#a540ce" stroke-width="1.25" fill="none"/>
<path d="M337.4 358.1L338.3 357.9L339.1 357.7L339.9 357.6L340.7 357.4L341.6 357.2L342.4 357L343.2 356.8L344 356.6L344.8 356.4L345.7 356.3L346.5 356.1L347.3 355.9L348.1 355.7L348.9 355.5L349.8 355.3L350.6 355.2L352.2 354.8L353.9 354.4L355.5 354.1L357.2 353.7L358.8 353.4L360.5 353L362.1 352.7L363.7 352.3L365.4 352L367 351.6L368.7 351.3L370.3 350.9L372 350.6L373.6 350.2L375.2 349.9L376.9 349.5L378.5 349.2L380.2 348.8L381.8 348.5L383.5 348.1L385.1 347.8L386.8 347.4L388.4 347.1L390 346.7L391.7 346.4L393.3 346L395 345.7L396.6 345.3L398.3 344.9L399.9 344.6L401.5 344.2L403.2 343.8L404.8 343.5L406.5 343.1L408.1 342.7L409.8 342.3L411.4 342L413.1 341.6L414.7 341.2L416.3 340.8L418 340.4L419.6 340L421.3 339.6L422.9 339.2L424.6 338.8L426.2 338.4L427.8 338L429.5 337.5L431.1 337.1L432.8 336.7L434.4 336.2L436.1 335.8L437.7 335.4L439.4 334.9L441 334.5L442.6 334L444.3 333.6L445.9 333.1L447.6 332.7L449.2 332.2L450.9 331.8L452.5 331.3L454.1 330.8L455.8 330.4L457.4 329.9L459.1 329.5L460.7 329L462.4 328.6L464 328.1L465.7 327.7L467.3 327.2L468.9 326.8L470.6 326.3L472.2 325.9L473.9 325.4L475.5 325L477.2 324.6L478.8 324.2L480.4 323.7L482.1 323.3L483.7 322.9L485.4 322.5L487 322.1L488.7 321.8L490.3 321.4L492 321L493.6 320.7L495.2 320.3L496.9 320L498.5 319.6L500.2 319.3L501.8 319L503.5 318.7L505.1 318.4L506.7 318.1L508.4 317.9L510 317.6L511.7 317.4L513.3 317.1L515 316.9L516.6 316.7L518.3 316.5L519.9 316.3L521.5 316.1L523.2 315.9L524.8 315.7L526.5 315.6L528.1 315.4L529.8 315.3L531.4 315.1L533 315L534.7 314.9L536.3 314.7L538 314.6L539.6 314.5L541.3 314.4L542.9 314.3L544.5 314.2L546.2 314.1L547.8 314L549.5 313.9L551.1 313.9L552.8 313.8L554.4 313.7L556.1 313.7L557.7 313.6L559.3 313.6L561 313.5L562.6 313.5L564.3 313.4L565.9 313.4L567.6 313.3L569.2 313.3L570.8 313.3L572.5 313.2L574.1 313.2L575.8 313.2L577.4 313.2L579.1 313.2L580.7 313.1L582.4 313.1L584 313.1L585.6 313.1L587.3 313.1L588.9 313.1L590.6 313.1L592.2 313.1" stroke="#a244d6" stroke-width="1.25" fill="none"/>
<path d="M337.4 353.6L338.3 353.4L339.1 353.2L339.9 353L340.7 352.8L341.6 352.6L342.4 352.4L343.2 352.2L344 352L344.8 351.8L345.7 351.6L346.5 351.4L347.3 351.2L348.1 351L348.9 350.8L349.8 350.6L350.6 350.4L352.2 350.1L353.9 349.7L355.5 349.3L357.2 348.9L358.8 348.5L360.5 348.1L362.1 347.7L363.7 347.4L365.4 347L367 346.6L368.7 346.2L370.3 345.9L372 345.5L373.6 345.1L375.2 344.7L376.9 344.4L378.5 344L380.2 343.6L381.8 343.2L383.5 342.8L385.1 342.5L386.8 342.1L388.4 341.7L390 341.3L391.7 340.9L393.3 340.6L395 340.2L396.6 339.8L398.3 339.4L399.9 339L401.5 338.6L403.2 338.2L404.8 337.8L406.5 337.4L408.1 337L409.8 336.6L411.4 336.2L413.1 335.8L414.7 335.4L416.3 335L418 334.6L419.6 334.2L421.3 333.7L422.9 333.3L424.6 332.9L426.2 332.4L427.8 332L429.5 331.5L431.1 331.1L432.8 330.7L434.4 330.2L436.1 329.7L437.7 329.3L439.4 328.8L441 328.4L442.6 327.9L444.3 327.4L445.9 326.9L447.6 326.5L449.2 326L450.9 325.5L452.5 325.1L454.1 324.6L455.8 324.1L457.4 323.6L459.1 323.2L460.7 322.7L462.4 322.2L464 321.8L465.7 321.3L467.3 320.8L468.9 320.4L470.6 319.9L472.2 319.5L473.9 319.1L475.5 318.6L477.2 318.2L478.8 317.8L480.4 317.3L482.1 316.9L483.7 316.5L485.4 316.1L487 315.7L488.7 315.3L490.3 315L492 314.6L493.6 314.2L495.2 313.9L496.9 313.5L498.5 313.2L500.2 312.9L501.8 312.6L503.5 312.3L505.1 312L506.7 311.7L508.4 311.5L510 311.2L511.7 311L513.3 310.8L515 310.5L516.6 310.3L518.3 310.1L519.9 309.9L521.5 309.8L523.2 309.6L524.8 309.4L526.5 309.3L528.1 309.1L529.8 309L531.4 308.8L533 308.7L534.7 308.6L536.3 308.4L538 308.3L539.6 308.2L541.3 308.1L542.9 308L544.5 308L546.2 307.9L547.8 307.8L549.5 307.7L551.1 307.7L552.8 307.6L554.4 307.5L556.1 307.5L557.7 307.4L559.3 307.4L561 307.4L562.6 307.3L564.3 307.3L565.9 307.2L567.6 307.2L569.2 307.2L570.8 307.2L572.5 307.1L574.1 307.1L575.8 307.1L577.4 307.1L579.1 307.1L580.7 307.1L582.4 307.1L584 307L585.6 307L587.3 307L588.9 307L590.6 307L592.2 307" stroke="#9c40d2" stroke-width="1.25" fill="none"/>
<path d="M337.4 349.2L338.3 348.9L339.1 348.7L339.9 348.5L340.7 348.3L341.6 348.1L342.4 347.9L343.2 347.6L344 347.4L344.8 347.2L345.7 347L346.5 346.8L347.3 346.6L348.1 346.4L348.9 346.2L349.8 345.9L350.6 345.7L352.2 345.3L353.9 344.9L355.5 344.5L357.2 344L358.8 343.6L360.5 343.2L362.1 342.8L363.7 342.4L365.4 342L367 341.6L368.7 341.2L370.3 340.8L372 340.4L373.6 340L375.2 339.6L376.9 339.2L378.5 338.8L380.2 338.4L381.8 338L383.5 337.6L385.1 337.1L386.8 336.7L388.4 336.3L390 335.9L391.7 335.5L393.3 335.1L395 334.7L396.6 334.3L398.3 333.9L399.9 333.5L401.5 333L403.2 332.6L404.8 332.2L406.5 331.8L408.1 331.4L409.8 330.9L411.4 330.5L413.1 330.1L414.7 329.6L416.3 329.2L418 328.8L419.6 328.3L421.3 327.9L422.9 327.4L424.6 326.9L426.2 326.5L427.8 326L429.5 325.6L431.1 325.1L432.8 324.6L434.4 324.1L436.1 323.7L437.7 323.2L439.4 322.7L441 322.2L442.6 321.7L444.3 321.3L445.9 320.8L447.6 320.3L449.2 319.8L450.9 319.3L452.5 318.8L454.1 318.3L455.8 317.8L457.4 317.4L459.1 316.9L460.7 316.4L462.4 315.9L464 315.4L465.7 315L467.3 314.5L468.9 314L470.6 313.6L472.2 313.1L473.9 312.7L475.5 312.2L477.2 311.8L478.8 311.3L480.4 310.9L482.1 310.5L483.7 310.1L485.4 309.7L487 309.3L488.7 308.9L490.3 308.5L492 308.2L493.6 307.8L495.2 307.5L496.9 307.1L498.5 306.8L500.2 306.5L501.8 306.2L503.5 305.9L505.1 305.6L506.7 305.3L508.4 305.1L510 304.8L511.7 304.6L513.3 304.4L515 304.2L516.6 304L518.3 303.8L519.9 303.6L521.5 303.4L523.2 303.2L524.8 303.1L526.5 302.9L528.1 302.8L529.8 302.6L531.4 302.5L533 302.4L534.7 302.3L536.3 302.2L538 302.1L539.6 302L541.3 301.9L542.9 301.8L544.5 301.7L546.2 301.6L547.8 301.6L549.5 301.5L551.1 301.5L552.8 301.4L554.4 301.4L556.1 301.3L557.7 301.3L559.3 301.2L561 301.2L562.6 301.2L564.3 301.1L565.9 301.1L567.6 301.1L569.2 301.1L570.8 301.1L572.5 301L574.1 301L575.8 301L577.4 301L579.1 301L580.7 301L582.4 301L584 301L585.6 301L587.3 300.9L588.9 300.9L590.6 300.9L592.2 300.9" stroke="#a653da" stroke-width="1.25" fill="none"/>
<path d="M337.4 340.2L338.3 339.9L339.1 339.7L339.9 339.5L340.7 339.2L341.6 339L342.4 338.7L343.2 338.5L344 338.2L344.8 338L345.7 337.8L346.5 337.5L347.3 337.3L348.1 337L348.9 336.8L349.8 336.5L350.6 336.3L352.2 335.8L353.9 335.3L355.5 334.9L357.2 334.4L358.8 333.9L360.5 333.4L362.1 333L363.7 332.5L365.4 332L367 331.6L368.7 331.1L370.3 330.7L372 330.2L373.6 329.7L375.2 329.3L376.9 328.8L378.5 328.4L380.2 327.9L381.8 327.5L383.5 327L385.1 326.5L386.8 326.1L388.4 325.6L390 325.2L391.7 324.7L393.3 324.2L395 323.8L396.6 323.3L398.3 322.9L399.9 322.4L401.5 321.9L403.2 321.5L404.8 321L406.5 320.5L408.1 320L409.8 319.6L411.4 319.1L413.1 318.6L414.7 318.2L416.3 317.7L418 317.2L419.6 316.7L421.3 316.2L422.9 315.7L424.6 315.2L426.2 314.7L427.8 314.2L429.5 313.7L431.1 313.2L432.8 312.7L434.4 312.2L436.1 311.7L437.7 311.1L439.4 310.6L441 310.1L442.6 309.6L444.3 309.1L445.9 308.5L447.6 308L449.2 307.5L450.9 307L452.5 306.5L454.1 306L455.8 305.5L457.4 305L459.1 304.5L460.7 304L462.4 303.5L464 303L465.7 302.5L467.3 302L468.9 301.5L470.6 301L472.2 300.5L473.9 300L475.5 299.6L477.2 299.1L478.8 298.7L480.4 298.2L482.1 297.8L483.7 297.4L485.4 297L487 296.6L488.7 296.2L490.3 295.8L492 295.4L493.6 295.1L495.2 294.7L496.9 294.4L498.5 294.1L500.2 293.8L501.8 293.4L503.5 293.2L505.1 292.9L506.7 292.6L508.4 292.4L510 292.1L511.7 291.9L513.3 291.7L515 291.5L516.6 291.3L518.3 291.1L519.9 290.9L521.5 290.7L523.2 290.6L524.8 290.4L526.5 290.3L528.1 290.2L529.8 290L531.4 289.9L533 289.8L534.7 289.7L536.3 289.6L538 289.5L539.6 289.4L541.3 289.4L542.9 289.3L544.5 289.2L546.2 289.2L547.8 289.1L549.5 289.1L551.1 289.1L552.8 289L554.4 289L556.1 289L557.7 288.9L559.3 288.9L561 288.9L562.6 288.9L564.3 288.9L565.9 288.9L567.6 288.9L569.2 288.8L570.8 288.8L572.5 288.8L574.1 288.8L575.8 288.8L577.4 288.8L579.1 288.8L580.7 288.8L582.4 288.8L584 288.8L585.6 288.8L587.3 288.8L588.9 288.8L590.6 288.8L592.2 288.8" stroke="#0d0d80" stroke-width="1.25" fill="none"/>
<path d="M337.4 335.7L338.3 335.4L339.1 335.2L339.9 334.9L340.7 334.7L341.6 334.4L342.4 334.2L343.2 333.9L344 333.6L344.8 333.4L345.7 333.1L346.5 332.9L347.3 332.6L348.1 332.4L348.9 332.1L349.8 331.8L350.6 331.6L352.2 331.1L353.9 330.6L355.5 330L357.2 329.5L358.8 329L360.5 328.5L362.1 328L363.7 327.5L365.4 327.1L367 326.6L368.7 326.1L370.3 325.6L372 325.1L373.6 324.6L375.2 324.1L376.9 323.7L378.5 323.2L380.2 322.7L381.8 322.2L383.5 321.7L385.1 321.2L386.8 320.8L388.4 320.3L390 319.8L391.7 319.3L393.3 318.8L395 318.3L396.6 317.9L398.3 317.4L399.9 316.9L401.5 316.4L403.2 315.9L404.8 315.4L406.5 314.9L408.1 314.4L409.8 313.9L411.4 313.4L413.1 312.9L414.7 312.4L416.3 311.9L418 311.4L419.6 310.9L421.3 310.4L422.9 309.9L424.6 309.4L426.2 308.9L427.8 308.3L429.5 307.8L431.1 307.3L432.8 306.8L434.4 306.2L436.1 305.7L437.7 305.2L439.4 304.6L441 304.1L442.6 303.6L444.3 303L445.9 302.5L447.6 302L449.2 301.5L450.9 300.9L452.5 300.4L454.1 299.9L455.8 299.4L457.4 298.9L459.1 298.3L460.7 297.8L462.4 297.3L464 296.8L465.7 296.3L467.3 295.8L468.9 295.3L470.6 294.8L472.2 294.3L473.9 293.8L475.5 293.3L477.2 292.9L478.8 292.4L480.4 292L482.1 291.5L483.7 291.1L485.4 290.7L487 290.3L488.7 289.9L490.3 289.5L492 289.1L493.6 288.8L495.2 288.4L496.9 288.1L498.5 287.8L500.2 287.5L501.8 287.1L503.5 286.8L505.1 286.6L506.7 286.3L508.4 286L510 285.8L511.7 285.6L513.3 285.3L515 285.1L516.6 284.9L518.3 284.7L519.9 284.6L521.5 284.4L523.2 284.3L524.8 284.1L526.5 284L528.1 283.9L529.8 283.7L531.4 283.6L533 283.5L534.7 283.4L536.3 283.3L538 283.3L539.6 283.2L541.3 283.1L542.9 283.1L544.5 283L546.2 283L547.8 282.9L549.5 282.9L551.1 282.9L552.8 282.8L554.4 282.8L556.1 282.8L557.7 282.8L559.3 282.8L561 282.8L562.6 282.7L564.3 282.7L565.9 282.7L567.6 282.7L569.2 282.7L570.8 282.7L572.5 282.7L574.1 282.7L575.8 282.7L577.4 282.7L579.1 282.7L580.7 282.7L582.4 282.7L584 282.7L585.6 282.7L587.3 282.7L588.9 282.7L590.6 282.7L592.2 282.7" stroke="#1616a2" stroke-width="1.25" fill="none"/>
<path d="M337.4 331.2L338.3 331L339.1 330.7L339.9 330.4L340.7 330.1L341.6 329.9L342.4 329.6L343.2 329.3L344 329L344.8 328.8L345.7 328.5L346.5 328.2L347.3 328L348.1 327.7L348.9 327.4L349.8 327.1L350.6 326.9L352.2 326.3L353.9 325.8L355.5 325.2L357.2 324.7L358.8 324.2L360.5 323.6L362.1 323.1L363.7 322.6L365.4 322.1L367 321.6L368.7 321.1L370.3 320.5L372 320L373.6 319.5L375.2 319L376.9 318.5L378.5 318L380.2 317.5L381.8 317L383.5 316.5L385.1 316L386.8 315.4L388.4 314.9L390 314.4L391.7 313.9L393.3 313.4L395 312.9L396.6 312.4L398.3 311.9L399.9 311.4L401.5 310.9L403.2 310.3L404.8 309.8L406.5 309.3L408.1 308.8L409.8 308.3L411.4 307.8L413.1 307.3L414.7 306.7L416.3 306.2L418 305.7L419.6 305.2L421.3 304.6L422.9 304.1L424.6 303.5L426.2 303L427.8 302.5L429.5 301.9L431.1 301.4L432.8 300.8L434.4 300.3L436.1 299.7L437.7 299.2L439.4 298.7L441 298.1L442.6 297.6L444.3 297L445.9 296.5L447.6 295.9L449.2 295.4L450.9 294.9L452.5 294.3L454.1 293.8L455.8 293.3L457.4 292.7L459.1 292.2L460.7 291.7L462.4 291.2L464 290.6L465.7 290.1L467.3 289.6L468.9 289.1L470.6 288.6L472.2 288.1L473.9 287.6L475.5 287.1L477.2 286.6L478.8 286.2L480.4 285.7L482.1 285.3L483.7 284.8L485.4 284.4L487 284L488.7 283.6L490.3 283.2L492 282.8L493.6 282.5L495.2 282.1L496.9 281.8L498.5 281.5L500.2 281.1L501.8 280.8L503.5 280.5L505.1 280.3L506.7 280L508.4 279.7L510 279.5L511.7 279.2L513.3 279L515 278.8L516.6 278.6L518.3 278.4L519.9 278.2L521.5 278.1L523.2 277.9L524.8 277.8L526.5 277.7L528.1 277.6L529.8 277.4L531.4 277.3L533 277.2L534.7 277.2L536.3 277.1L538 277L539.6 276.9L541.3 276.8L542.9 276.8L544.5 276.8L546.2 276.7L547.8 276.7L549.5 276.7L551.1 276.7L552.8 276.7L554.4 276.6L556.1 276.6L557.7 276.6L559.3 276.6L561 276.6L562.6 276.6L564.3 276.6L565.9 276.6L567.6 276.6L569.2 276.6L570.8 276.6L572.5 276.6L574.1 276.6L575.8 276.6L577.4 276.6L579.1 276.6L580.7 276.6L582.4 276.6L584 276.6L585.6 276.6L587.3 276.6L588.9 276.6L590.6 276.6L592.2 276.6" stroke="#2020c4" stroke-width="1.25" fill="none"/>
<path d="M337.4 326.7L338.3 326.5L339.1 326.2L339.9 325.9L340.7 325.6L341.6 325.3L342.4 325L343.2 324.7L344 324.4L344.8 324.2L345.7 323.9L346.5 323.6L347.3 323.3L348.1 323L348.9 322.7L349.8 322.4L350.6 322.1L352.2 321.6L353.9 321L355.5 320.4L357.2 319.9L358.8 319.3L360.5 318.7L362.1 318.2L363.7 317.6L365.4 317.1L367 316.6L368.7 316L370.3 315.5L372 314.9L373.6 314.4L375.2 313.9L376.9 313.3L378.5 312.8L380.2 312.3L381.8 311.7L383.5 311.2L385.1 310.7L386.8 310.1L388.4 309.6L390 309.1L391.7 308.5L393.3 308L395 307.5L396.6 306.9L398.3 306.4L399.9 305.9L401.5 305.3L403.2 304.8L404.8 304.2L406.5 303.7L408.1 303.2L409.8 302.6L411.4 302.1L413.1 301.6L414.7 301L416.3 300.5L418 300L419.6 299.4L421.3 298.8L422.9 298.3L424.6 297.7L426.2 297.2L427.8 296.6L429.5 296L431.1 295.5L432.8 294.9L434.4 294.4L436.1 293.8L437.7 293.2L439.4 292.7L441 292.1L442.6 291.5L444.3 291L445.9 290.4L447.6 289.9L449.2 289.3L450.9 288.8L452.5 288.2L454.1 287.7L455.8 287.2L457.4 286.6L459.1 286.1L460.7 285.6L462.4 285L464 284.5L465.7 283.9L467.3 283.4L468.9 282.9L470.6 282.4L472.2 281.9L473.9 281.4L475.5 280.9L477.2 280.4L478.8 279.9L480.4 279.4L482.1 279L483.7 278.6L485.4 278.1L487 277.7L488.7 277.3L490.3 276.9L492 276.5L493.6 276.2L495.2 275.8L496.9 275.5L498.5 275.2L500.2 274.8L501.8 274.5L503.5 274.2L505.1 273.9L506.7 273.7L508.4 273.4L510 273.2L511.7 272.9L513.3 272.7L515 272.5L516.6 272.3L518.3 272.1L519.9 271.9L521.5 271.8L523.2 271.6L524.8 271.5L526.5 271.4L528.1 271.3L529.8 271.2L531.4 271.1L533 271L534.7 270.9L536.3 270.8L538 270.7L539.6 270.7L541.3 270.6L542.9 270.6L544.5 270.5L546.2 270.5L547.8 270.5L549.5 270.5L551.1 270.5L552.8 270.5L554.4 270.5L556.1 270.5L557.7 270.5L559.3 270.5L561 270.5L562.6 270.5L564.3 270.5L565.9 270.5L567.6 270.5L569.2 270.5L570.8 270.5L572.5 270.5L574.1 270.5L575.8 270.5L577.4 270.5L579.1 270.6L580.7 270.6L582.4 270.6L584 270.6L585.6 270.6L587.3 270.6L588.9 270.6L590.6 270.6L592.2 270.6" stroke="#2626b2" stroke-width="1.25" fill="none"/>
<path d="M337.4 344.7L338.3 344.4L339.1 344.2L339.9 344L340.7 343.8L341.6 343.5L342.4 343.3L343.2 343.1L344 342.8L344.8 342.6L345.7 342.4L346.5 342.1L347.3 341.9L348.1 341.7L348.9 341.5L349.8 341.2L350.6 341L352.2 340.6L353.9 340.1L355.5 339.7L357.2 339.2L358.8 338.8L360.5 338.3L362.1 337.9L363.7 337.4L365.4 337L367 336.6L368.7 336.1L370.3 335.7L372 335.3L373.6 334.9L375.2 334.4L376.9 334L378.5 333.6L380.2 333.1L381.8 332.7L383.5 332.3L385.1 331.8L386.8 331.4L388.4 331L390 330.5L391.7 330.1L393.3 329.7L395 329.2L396.6 328.8L398.3 328.3L399.9 327.9L401.5 327.5L403.2 327L404.8 326.6L406.5 326.1L408.1 325.7L409.8 325.2L411.4 324.8L413.1 324.3L414.7 323.9L416.3 323.4L418 322.9L419.6 322.5L421.3 322L422.9 321.5L424.6 321L426.2 320.6L427.8 320.1L429.5 319.6L431.1 319.1L432.8 318.6L434.4 318.1L436.1 317.6L437.7 317.1L439.4 316.6L441 316.1L442.6 315.6L444.3 315.1L445.9 314.6L447.6 314.1L449.2 313.6L450.9 313.1L452.5 312.6L454.1 312.1L455.8 311.6L457.4 311.1L459.1 310.6L460.7 310.1L462.4 309.6L464 309.1L465.7 308.6L467.3 308.1L468.9 307.7L470.6 307.2L472.2 306.7L473.9 306.3L475.5 305.8L477.2 305.4L478.8 304.9L480.4 304.5L482.1 304.1L483.7 303.7L485.4 303.3L487 302.9L488.7 302.5L490.3 302.1L492 301.7L493.6 301.4L495.2 301L496.9 300.7L498.5 300.4L500.2 300.1L501.8 299.8L503.5 299.5L505.1 299.2L506.7 298.9L508.4 298.7L510 298.4L511.7 298.2L513.3 298L515 297.8L516.6 297.6L518.3 297.4L519.9 297.2L521.5 297.1L523.2 296.9L524.8 296.7L526.5 296.6L528.1 296.5L529.8 296.3L531.4 296.2L533 296.1L534.7 296L536.3 295.9L538 295.8L539.6 295.7L541.3 295.6L542.9 295.5L544.5 295.5L546.2 295.4L547.8 295.4L549.5 295.3L551.1 295.3L552.8 295.2L554.4 295.2L556.1 295.1L557.7 295.1L559.3 295.1L561 295.1L562.6 295L564.3 295L565.9 295L567.6 295L569.2 295L570.8 294.9L572.5 294.9L574.1 294.9L575.8 294.9L577.4 294.9L579.1 294.9L580.7 294.9L582.4 294.9L584 294.9L585.6 294.9L587.3 294.9L588.9 294.9L590.6 294.9L592.2 294.8" stroke="#2fd62f" stroke-width="1.2" fill="none"/>
</g>
<rect x="334.6" y="229.6" width="257.5" height="153.9" fill="none" stroke="#7c7c7c" stroke-width="1"/>
<path d="M335.8 383.5v2.9M355.5 383.5v2.9M375.2 383.5v2.9M395 383.5v2.9M414.7 383.5v2.9M434.4 383.5v2.9M454.1 383.5v2.9M473.9 383.5v2.9M493.6 383.5v2.9M513.3 383.5v2.9M533 383.5v2.9M552.8 383.5v2.9M572.5 383.5v2.9M334.6 353.8h-2.9M334.6 307h-2.9M334.6 260.2h-2.9" stroke="#333" stroke-width=".9" fill="none"/>
<g font-size="8.4" fill="#474747">
<g text-anchor="middle">
<text x="337.1" y="394.8">60</text>
<text x="355.5" y="394.8">72</text>
<text x="375.2" y="394.8">84</text>
<text x="395" y="394.8">96</text>
<text x="414.7" y="394.8">108</text>
<text x="434.4" y="394.8">120</text>
<text x="454.1" y="394.8">132</text>
<text x="473.9" y="394.8">144</text>
<text x="493.6" y="394.8">156</text>
<text x="513.3" y="394.8">168</text>
<text x="533" y="394.8">180</text>
<text x="552.8" y="394.8">192</text>
<text x="572.5" y="394.8">204</text>
</g><g text-anchor="end">
<text x="329.7" y="356.8">100</text>
<text x="329.7" y="310">150</text>
<text x="329.7" y="263.2">200</text>
</g></g>
<text x="463.4" y="407" font-size="10.5" text-anchor="middle" fill="#000">Age (month)</text>
<text transform="translate(310.5 306.6) rotate(-90)" font-size="10.5" text-anchor="middle" fill="#000">Height (cm)</text>
<g font-size="8.65" fill="#000">
<path d="M603.8 140.6H617.5" stroke="#b23434" stroke-width="1.3"/>
<text x="624" y="143.6">Vschool median</text>
<path d="M603.8 157.2H617.5" stroke="#45dc45" stroke-width="1.3"/>
<text x="624" y="160.2">WHO median</text>
<path d="M603.8 173.7H617.5" stroke="#3838c8" stroke-width="1.3"/>
<text x="624" y="176.7">+4SD</text>
<path d="M603.8 190.2H617.5" stroke="#4444e2" stroke-width="1.3"/>
<text x="624" y="193.2">+3SD</text>
<path d="M603.8 206.8H617.5" stroke="#2626b0" stroke-width="1.3"/>
<text x="624" y="209.8">+2SD</text>
<path d="M603.8 223.3H617.5" stroke="#181884" stroke-width="1.3"/>
<text x="624" y="226.3">+1SD</text>
<path d="M603.8 239.9H617.5" stroke="#b56de2" stroke-width="1.3"/>
<text x="624" y="242.9">-1SD</text>
<path d="M603.8 256.4H617.5" stroke="#b060e0" stroke-width="1.3"/>
<text x="624" y="259.4">-2SD</text>
<path d="M603.8 273H617.5" stroke="#b464e4" stroke-width="1.3"/>
<text x="624" y="276">-3SD</text>
<path d="M603.8 289.6H617.5" stroke="#a548d2" stroke-width="1.3"/>
<text x="624" y="292.6">-4SD</text>
</g>
</svg>
</body></html>
